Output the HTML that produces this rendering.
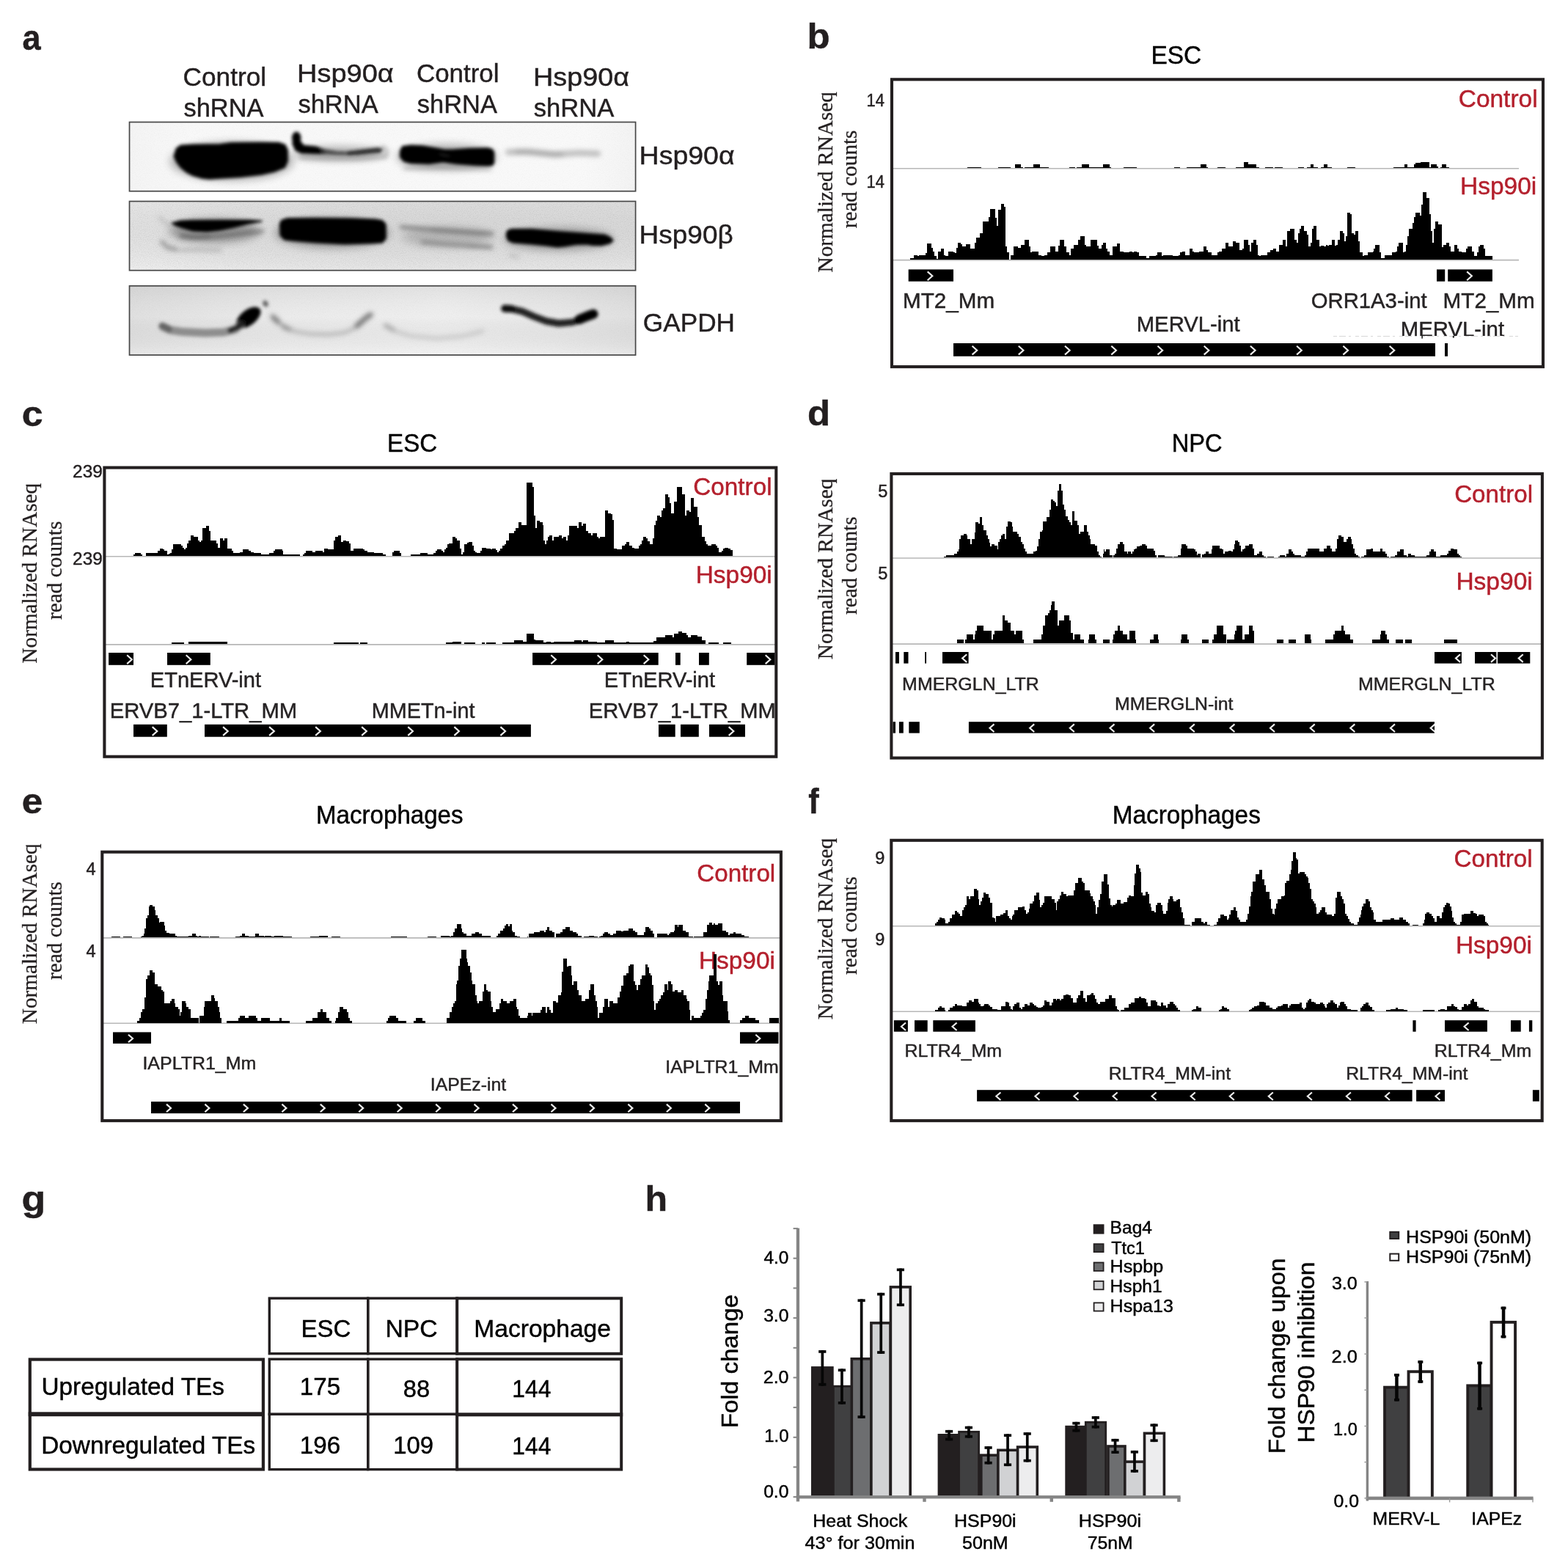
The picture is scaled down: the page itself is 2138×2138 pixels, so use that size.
<!DOCTYPE html>
<html lang="en"><head><meta charset="utf-8"><title>Figure</title>
<style>
html,body{margin:0;padding:0;background:#fff;}
svg{display:block;}
.s{font-family:'Liberation Sans', Arial, Helvetica, sans-serif;stroke-width:0.45px;}
.r{font-family:'Liberation Serif', 'Times New Roman', serif;stroke-width:0.3px;}
</style></head>
<body>
<svg width="2138" height="2138" viewBox="0 0 2138 2138">
<rect x="0" y="0" width="2138" height="2138" fill="#fff"/>
<text class="s" x="30.47" y="67.50" font-size="48.80" font-weight="bold" fill="#231f20" stroke="#231f20" textLength="25.13" lengthAdjust="spacingAndGlyphs">a</text>
<text class="s" x="249.54" y="116.80" font-size="35.60" fill="#231f20" stroke="#231f20" textLength="113.55" lengthAdjust="spacingAndGlyphs">Control</text>
<text class="s" x="250.44" y="158.60" font-size="35.60" fill="#231f20" stroke="#231f20" textLength="109.06" lengthAdjust="spacingAndGlyphs">shRNA</text>
<text class="s" x="405.06" y="111.60" font-size="35.60" fill="#231f20" stroke="#231f20" textLength="131.71" lengthAdjust="spacingAndGlyphs">Hsp90α</text>
<text class="s" x="406.44" y="153.60" font-size="35.60" fill="#231f20" stroke="#231f20" textLength="109.26" lengthAdjust="spacingAndGlyphs">shRNA</text>
<text class="s" x="567.95" y="111.80" font-size="35.60" fill="#231f20" stroke="#231f20" textLength="112.62" lengthAdjust="spacingAndGlyphs">Control</text>
<text class="s" x="568.84" y="153.80" font-size="35.60" fill="#231f20" stroke="#231f20" textLength="109.06" lengthAdjust="spacingAndGlyphs">shRNA</text>
<text class="s" x="726.98" y="116.80" font-size="35.60" fill="#231f20" stroke="#231f20" textLength="131.09" lengthAdjust="spacingAndGlyphs">Hsp90α</text>
<text class="s" x="727.73" y="159.00" font-size="35.60" fill="#231f20" stroke="#231f20" textLength="109.66" lengthAdjust="spacingAndGlyphs">shRNA</text>
<text class="s" x="871.60" y="223.60" font-size="35.60" fill="#231f20" stroke="#231f20" textLength="130.05" lengthAdjust="spacingAndGlyphs">Hsp90α</text>
<text class="s" x="871.64" y="332.10" font-size="35.60" fill="#231f20" stroke="#231f20" textLength="128.06" lengthAdjust="spacingAndGlyphs">Hsp90β</text>
<text class="s" x="876.84" y="451.80" font-size="35.60" fill="#231f20" stroke="#231f20" textLength="125.18" lengthAdjust="spacingAndGlyphs">GAPDH</text>
<defs>
<filter id="b1" x="-20%" y="-60%" width="140%" height="220%"><feGaussianBlur stdDeviation="2.3"/></filter>
<filter id="b2" x="-20%" y="-80%" width="140%" height="260%"><feGaussianBlur stdDeviation="3.4"/></filter>
<filter id="b3" x="-20%" y="-100%" width="140%" height="300%"><feGaussianBlur stdDeviation="6"/></filter>
<filter id="nz" x="0" y="0" width="100%" height="100%"><feTurbulence type="fractalNoise" baseFrequency="0.8" numOctaves="2" seed="7" result="n"/><feColorMatrix in="n" type="matrix" values="0 0 0 0 0  0 0 0 0 0  0 0 0 0 0  1.2 0 0 0 -0.5"/></filter>
<linearGradient id="g1" x1="0" x2="1" y1="0" y2="0"><stop offset="0" stop-color="#f4f4f4"/><stop offset="0.12" stop-color="#f8f8f8"/><stop offset="0.9" stop-color="#f9f9f9"/><stop offset="1" stop-color="#f3f3f3"/></linearGradient>
<linearGradient id="g2" x1="0" x2="1" y1="0" y2="0"><stop offset="0" stop-color="#ececec"/><stop offset="0.2" stop-color="#e6e6e6"/><stop offset="0.6" stop-color="#e2e2e2"/><stop offset="1" stop-color="#e3e3e3"/></linearGradient>
<linearGradient id="g2v" x1="0" x2="0" y1="0" y2="1"><stop offset="0" stop-color="#000" stop-opacity="0.02"/><stop offset="1" stop-color="#fff" stop-opacity="0.18"/></linearGradient>
<linearGradient id="g3" x1="0" x2="1" y1="0" y2="0"><stop offset="0" stop-color="#e0e0e0"/><stop offset="0.3" stop-color="#ebebeb"/><stop offset="0.62" stop-color="#efefef"/><stop offset="0.85" stop-color="#e8e8e8"/><stop offset="1" stop-color="#e0e0e0"/></linearGradient>
<linearGradient id="g3v" x1="0" x2="0" y1="0" y2="1"><stop offset="0" stop-color="#000" stop-opacity="0.06"/><stop offset="0.45" stop-color="#808080" stop-opacity="0"/><stop offset="1" stop-color="#fff" stop-opacity="0.28"/></linearGradient>
<clipPath id="c1"><rect x="176.6" y="166.6" width="690" height="94"/></clipPath>
<clipPath id="c2"><rect x="176.6" y="274.6" width="690" height="94"/></clipPath>
<clipPath id="c3"><rect x="176.6" y="389.9" width="690" height="94.2"/></clipPath>
</defs>
<rect x="176.5" y="166.5" width="690.1" height="94.2" fill="url(#g1)"/>
<rect x="176.5" y="166.5" width="690.1" height="94.2" filter="url(#nz)" opacity="0.05"/>
<g clip-path="url(#c1)">
<g filter="url(#b3)" opacity="0.30"><ellipse cx="316" cy="220" rx="84" ry="26" fill="#000"/><ellipse cx="609" cy="214" rx="68" ry="17" fill="#000"/><ellipse cx="462" cy="209" rx="62" ry="9" fill="#000"/></g>
<g filter="url(#b1)">
<path d="M237.6,213.0 L240.8,202.5 L246.4,198.6 L263.0,197.6 L300.0,197.0 L315.0,195.0 L356.0,194.4 L380.0,194.8 L388.5,197.6 L391.8,204.7 L391.8,219.6 L388.0,228.0 L375.0,233.4 L356.0,237.7 L328.0,240.9 L300.0,242.7 L285.5,243.8 L276.0,242.7 L263.0,239.0 L254.0,234.3 L246.5,228.0 L241.0,220.6Z" fill="#000" opacity="1.00" stroke="#000" stroke-width="2" stroke-linejoin="round"/>
<ellipse cx="404.2" cy="188.3" rx="6.2" ry="8.8" fill="#000"/>
<path d="M399.0,195.0 L409.5,193.5 L414.0,198.8 L431.0,200.6 L440.0,203.6 L443.0,209.3 L431.0,209.2 L411.0,208.4 L403.2,204.6Z" fill="#050505" opacity="1.00" stroke="#050505" stroke-width="2" stroke-linejoin="round"/>
<path d="M438.0,203.2 L459.0,207.0 L477.0,207.9 L478.0,210.8 L458.0,210.6 L440.0,209.4Z" fill="#3c3c3c" opacity="0.85" stroke="#3c3c3c" stroke-width="2" stroke-linejoin="round"/>
<path d="M474.0,207.6 L496.0,204.6 L514.5,202.3 L521.0,203.2 L518.5,207.4 L505.0,208.6 L487.0,210.5 L475.0,210.8Z" fill="#1f1f1f" opacity="0.90" stroke="#1f1f1f" stroke-width="2" stroke-linejoin="round"/>
<path d="M546.0,206.0 L549.0,200.0 L560.0,198.4 L576.0,199.2 L595.0,202.6 L605.0,204.2 L617.0,204.4 L641.0,202.8 L665.0,202.3 L671.0,204.0 L673.3,208.0 L673.3,222.0 L671.0,225.3 L665.0,226.0 L650.0,225.4 L622.0,223.2 L604.0,220.4 L585.0,223.2 L560.0,222.3 L551.0,219.8 L546.0,214.0Z" fill="#000" opacity="1.00" stroke="#000" stroke-width="2" stroke-linejoin="round"/>
</g>
<g filter="url(#b2)">
<polyline points="410.0,214.5 450.0,216.0 490.0,216.2 524.0,213.5" fill="none" stroke="#666" stroke-width="5.0" stroke-linecap="round" stroke-linejoin="round" opacity="0.42"/>
<polyline points="522.0,200.0 528.0,206.0 526.0,214.0" fill="none" stroke="#777" stroke-width="5.0" stroke-linecap="round" stroke-linejoin="round" opacity="0.45"/>
<polyline points="552.0,229.5 600.0,228.0 668.0,230.5" fill="none" stroke="#555" stroke-width="5.0" stroke-linecap="round" stroke-linejoin="round" opacity="0.35"/>
<polyline points="693.0,207.5 720.0,206.5 755.0,210.5 790.0,208.5 815.0,209.5" fill="none" stroke="#8a8a8a" stroke-width="8.5" stroke-linecap="round" stroke-linejoin="round" opacity="0.50"/>
<polyline points="705.0,207.0 740.0,209.5 765.0,211.0" fill="none" stroke="#777" stroke-width="7.0" stroke-linecap="round" stroke-linejoin="round" opacity="0.28"/>
</g>
<ellipse cx="606" cy="211.5" rx="8" ry="1.6" fill="#3a3a3a" opacity="0.55" filter="url(#b1)" transform="rotate(12 606 211.5)"/>
</g>
<rect x="176.50" y="166.50" width="690.10" height="94.20" fill="none" stroke="#474747" stroke-width="1.7"/>
<rect x="176.5" y="274.5" width="690.1" height="94.2" fill="url(#g2)"/>
<rect x="176.5" y="274.5" width="690.1" height="94.2" fill="url(#g2v)"/>
<rect x="176.5" y="274.5" width="690.1" height="94.2" filter="url(#nz)" opacity="0.14"/>
<g clip-path="url(#c2)">
<g filter="url(#b3)" opacity="0.30"><ellipse cx="453" cy="318" rx="78" ry="20" fill="#000"/><ellipse cx="762" cy="326" rx="74" ry="15" fill="#000"/><ellipse cx="292" cy="315" rx="62" ry="16" fill="#000"/><ellipse cx="610" cy="323" rx="62" ry="14" fill="#000" opacity="0.5"/></g>
<g filter="url(#b1)">
<path d="M234.5,304.4 L245.0,301.6 L260.0,300.8 L300.0,300.4 L340.0,300.6 L357.0,301.6 L337.0,305.2 L319.0,309.8 L300.0,313.4 L282.0,315.4 L263.0,314.6 L248.0,310.4 L239.0,307.0Z" fill="#000" opacity="1.00" stroke="#000" stroke-width="2" stroke-linejoin="round"/>
<path d="M381.8,306.0 L384.0,300.6 L392.0,298.0 L430.0,297.8 L480.0,298.2 L512.0,299.4 L521.0,301.0 L525.6,306.0 L525.8,325.0 L521.0,330.6 L505.0,331.6 L470.0,332.4 L430.0,330.4 L400.0,328.0 L388.0,326.4 L382.6,321.0Z" fill="#000" opacity="1.00" stroke="#000" stroke-width="2" stroke-linejoin="round"/>
<path d="M690.6,321.0 L692.0,315.0 L697.0,312.8 L725.0,312.8 L762.0,316.0 L800.0,318.8 L825.0,320.6 L832.0,324.0 L835.6,328.0 L831.0,331.6 L820.0,334.2 L808.0,334.0 L800.0,332.4 L785.0,333.0 L770.0,335.6 L760.0,336.4 L745.0,334.4 L725.0,332.4 L700.0,330.6 L693.0,327.6Z" fill="#000" opacity="1.00" stroke="#000" stroke-width="2" stroke-linejoin="round"/>
</g>
<g filter="url(#b2)">
<polyline points="246.0,321.5 265.0,323.4 300.0,322.0 335.0,318.0 358.0,315.5" fill="none" stroke="#4a4a4a" stroke-width="4.6" stroke-linecap="round" stroke-linejoin="round" opacity="0.62"/>
<polyline points="248.0,322.0 262.0,323.6 285.0,323.0" fill="none" stroke="#333" stroke-width="4.6" stroke-linecap="round" stroke-linejoin="round" opacity="0.35"/>
<polyline points="221.0,330.0 228.0,337.0 240.0,340.0" fill="none" stroke="#666" stroke-width="6.0" stroke-linecap="round" stroke-linejoin="round" opacity="0.55"/>
<polyline points="246.0,341.0 270.0,340.5 300.0,341.5" fill="none" stroke="#777" stroke-width="4.6" stroke-linecap="round" stroke-linejoin="round" opacity="0.40"/>
<polyline points="218.0,296.0 224.0,303.0 232.0,307.0" fill="none" stroke="#888" stroke-width="4.0" stroke-linecap="round" stroke-linejoin="round" opacity="0.35"/>
<polyline points="340.0,316.0 352.0,317.0" fill="none" stroke="#777" stroke-width="4.0" stroke-linecap="round" stroke-linejoin="round" opacity="0.30"/>
<polyline points="547.0,309.6 580.0,312.6 620.0,315.2 650.0,317.4 671.0,318.6" fill="none" stroke="#6a6a6a" stroke-width="5.0" stroke-linecap="round" stroke-linejoin="round" opacity="0.80"/>
<polyline points="590.0,313.6 630.0,316.2 660.0,318.0" fill="none" stroke="#555" stroke-width="3.6" stroke-linecap="round" stroke-linejoin="round" opacity="0.30"/>
<polyline points="576.0,330.0 610.0,333.0 645.0,335.4 670.0,337.0" fill="none" stroke="#747474" stroke-width="5.2" stroke-linecap="round" stroke-linejoin="round" opacity="0.74"/>
<polyline points="640.0,335.4 668.0,337.4" fill="none" stroke="#666" stroke-width="4.4" stroke-linecap="round" stroke-linejoin="round" opacity="0.35"/>
<polyline points="696.0,348.0 706.0,350.5" fill="none" stroke="#888" stroke-width="5.0" stroke-linecap="round" stroke-linejoin="round" opacity="0.30"/>
</g>
</g>
<rect x="176.50" y="274.50" width="690.10" height="94.20" fill="none" stroke="#474747" stroke-width="1.7"/>
<rect x="176.5" y="389.8" width="690.1" height="94.3" fill="url(#g3)"/>
<rect x="176.5" y="389.8" width="690.1" height="94.3" fill="url(#g3v)"/>
<rect x="176.5" y="389.8" width="690.1" height="94.3" filter="url(#nz)" opacity="0.05"/>
<g clip-path="url(#c3)">
<g filter="url(#b1)">
<ellipse cx="338.8" cy="433.0" rx="19.5" ry="10.4" fill="#000" transform="rotate(-38 338.8 433.0)"/>
<polyline points="222.0,445.5 232.0,450.0 250.0,452.6 280.0,454.0 305.0,453.0 320.0,449.4 328.0,443.0" fill="none" stroke="#707070" stroke-width="11.0" stroke-linecap="round" stroke-linejoin="round" opacity="0.74"/>
<polyline points="221.0,444.0 230.0,448.6" fill="none" stroke="#444" stroke-width="9.0" stroke-linecap="round" stroke-linejoin="round" opacity="0.55"/>
<polyline points="314.0,450.6 324.0,446.5 332.0,439.0" fill="none" stroke="#111" stroke-width="7.0" stroke-linecap="round" stroke-linejoin="round" opacity="0.85"/>
<ellipse cx="362" cy="414" rx="3.6" ry="4.6" fill="#444" opacity="0.8" transform="rotate(-30 362 414)"/>
<polyline points="689.0,421.0 698.0,421.4 712.0,424.6 728.0,431.6 745.0,438.0 762.0,441.0 780.0,439.4 795.0,434.6 806.0,430.0" fill="none" stroke="#141414" stroke-width="9.4" stroke-linecap="round" stroke-linejoin="round" opacity="0.95"/>
<polyline points="790.0,435.5 801.0,431.0 809.0,428.2" fill="none" stroke="#000" stroke-width="13.0" stroke-linecap="round" stroke-linejoin="round" opacity="1.00"/>
<polyline points="688.0,420.6 697.0,421.0" fill="none" stroke="#111" stroke-width="10.0" stroke-linecap="round" stroke-linejoin="round" opacity="0.90"/>
</g>
<g filter="url(#b2)">
<polyline points="372.0,432.6 380.0,440.0 390.0,447.0 404.0,452.4 425.0,455.6 450.0,456.0 470.0,453.6 482.0,448.0 492.0,440.0 500.0,432.0 506.0,428.6" fill="none" stroke="#777" stroke-width="5.0" stroke-linecap="round" stroke-linejoin="round" opacity="0.42"/>
<polyline points="372.0,432.0 379.0,438.6" fill="none" stroke="#555" stroke-width="7.0" stroke-linecap="round" stroke-linejoin="round" opacity="0.62"/>
<polyline points="386.0,445.0 394.0,449.0" fill="none" stroke="#666" stroke-width="6.0" stroke-linecap="round" stroke-linejoin="round" opacity="0.50"/>
<polyline points="487.0,444.0 497.0,435.0 505.0,429.4" fill="none" stroke="#555" stroke-width="7.4" stroke-linecap="round" stroke-linejoin="round" opacity="0.66"/>
<polyline points="526.0,444.5 540.0,452.0 560.0,458.0 595.0,461.6 630.0,458.6 658.0,451.4" fill="none" stroke="#999" stroke-width="5.0" stroke-linecap="round" stroke-linejoin="round" opacity="0.40"/>
<polyline points="525.6,443.5 536.0,449.5" fill="none" stroke="#888" stroke-width="6.4" stroke-linecap="round" stroke-linejoin="round" opacity="0.45"/>
</g>
</g>
<rect x="176.50" y="389.80" width="690.10" height="94.30" fill="none" stroke="#474747" stroke-width="1.7"/>
<text class="s" x="1100.49" y="66.30" font-size="47.60" font-weight="bold" fill="#231f20" stroke="#231f20" textLength="31.09" lengthAdjust="spacingAndGlyphs">b</text>
<text class="s" x="1569.42" y="87.00" font-size="34.20" fill="#000" stroke="#000" textLength="68.82" lengthAdjust="spacingAndGlyphs">ESC</text>
<text class="s" x="1181.45" y="145.20" font-size="23.60" fill="#231f20" stroke="#231f20" textLength="24.42" lengthAdjust="spacingAndGlyphs">14</text>
<text class="s" x="1181.45" y="256.20" font-size="23.60" fill="#231f20" stroke="#231f20" textLength="24.42" lengthAdjust="spacingAndGlyphs">14</text>
<text class="r" x="1134.80" y="371.43" font-size="30.40" fill="#231f20" stroke="#231f20" textLength="246.27" lengthAdjust="spacingAndGlyphs" transform="rotate(-90 1134.80 371.43)">Normalized RNAseq</text>
<text class="r" x="1168.40" y="311.28" font-size="30.40" fill="#231f20" stroke="#231f20" textLength="133.78" lengthAdjust="spacingAndGlyphs" transform="rotate(-90 1168.40 311.28)">read counts</text>
<text class="s" x="1988.73" y="145.90" font-size="33.60" fill="#b4202d" stroke="#b4202d" textLength="107.85" lengthAdjust="spacingAndGlyphs">Control</text>
<text class="s" x="1991.02" y="264.70" font-size="33.60" fill="#b4202d" stroke="#b4202d" textLength="104.23" lengthAdjust="spacingAndGlyphs">Hsp90i</text>
<line x1="1216.0" y1="229.7" x2="2071.0" y2="229.7" stroke="#b7b7b7" stroke-width="1.60"/>
<line x1="1216.0" y1="354.6" x2="2071.0" y2="354.6" stroke="#b7b7b7" stroke-width="1.60"/>
<path d="M1319.3,229.3V228.1 H1337.9V229.3ZM1361.2,229.3V228.1 H1377.5V229.3ZM1384.0,229.3V224.2 H1392.3V227.7 H1394.6V229.3ZM1396.9,229.3V228.1 H1409.3V224.2 H1417.9V228.1 H1429.5V229.3ZM1458.0,229.3V228.1 H1466.0V229.3ZM1468.4,229.3V228.1 H1475.3V224.2 H1484.7V228.1 H1504.1V224.2 H1512.6V227.7 H1514.9V229.3ZM1532.1,229.3V228.1 H1549.8V229.3ZM1601.1,229.3V228.1 H1608.8V229.3ZM1618.1,229.3V228.1 H1637.2V224.2 H1645.0V228.1 H1647.0V229.3ZM1660.1,229.3V228.1 H1670.9V229.3ZM1684.9,229.3V228.1 H1696.2V221.2 H1702.0V224.2 H1713.0V228.1 H1716.9V229.3ZM1725.0,229.3V228.1 H1735.8V229.3ZM1738.2,229.3V228.1 H1749.0V229.3ZM1770.0,229.3V228.1 H1778.1V229.3ZM1782.1,229.3V228.1 H1787.1V224.2 H1791.0V228.1 H1797.2V229.3ZM1801.1,229.3V228.1 H1804.9V224.2 H1809.9V229.3ZM1810.1,229.3V228.1 H1815.9V229.3ZM1837.2,229.3V228.1 H1847.7V229.3ZM1900.4,229.3V228.1 H1915.3V224.2 H1918.7V228.1 H1928.0V224.2 H1930.3V221.5 H1937.3V220.8 H1948.7V228.1 H1951.0V224.2 H1958.6V227.0 H1960.6V229.3ZM1964.2,229.3V228.1 H1966.1V224.2 H1972.0V228.1 H1975.8V229.3Z" fill="#000" shape-rendering="crispEdges"/>
<path d="M1240.9,354.0V352.1 H1245.5V347.5 H1251.0V349.0 H1253.3V347.5 H1261.8V345.1 H1264.2V331.5 H1270.1V338.2 H1271.9V342.8 H1274.3V349.3 H1276.6V352.9 H1278.9V343.1 H1282.8V338.5 H1287.0V347.5 H1289.0V349.3 H1292.9V342.5 H1299.9V343.6 H1302.2V345.1 H1304.2V338.2 H1306.1V331.3 H1310.0V333.2 H1312.0V336.3 H1317.0V333.2 H1322.9V338.5 H1329.4V331.2 H1331.2V323.9 H1335.9V317.5 H1339.9V302.1 H1348.0V295.5 H1350.3V285.4 H1357.0V297.3 H1358.9V308.2 H1361.2V286.1 H1365.1V278.4 H1369.0V281.5 H1371.0V336.3 H1372.9V343.6 H1376.0V354.0ZM1378.3,354.0V347.5 H1382.2V335.8 H1387.6V338.2 H1392.3V333.5 H1396.9V326.5 H1402.7V336.3 H1404.7V343.6 H1407.0V342.5 H1415.9V347.5 H1419.8V349.3 H1424.1V347.5 H1428.0V343.6 H1431.9V336.3 H1438.9V342.8 H1442.7V335.1 H1445.1V327.3 H1450.8V335.8 H1453.6V343.6 H1458.0V347.5 H1459.8V338.5 H1464.2V333.5 H1469.9V327.3 H1473.0V322.3 H1478.9V333.5 H1480.8V336.3 H1487.0V326.5 H1495.8V335.1 H1497.9V338.5 H1501.7V333.5 H1504.1V331.3 H1508.0V338.5 H1510.0V342.8 H1512.9V347.5 H1517.0V336.3 H1519.9V354.0ZM1520.0,354.0V336.3 H1523.1V331.5 H1527.0V342.8 H1531.6V343.6 H1540.2V342.5 H1544.1V343.6 H1546.4V342.5 H1549.5V343.6 H1552.9V349.3 H1562.7V352.1 H1567.0V349.3 H1575.9V347.5 H1578.2V343.6 H1583.7V349.3 H1586.0V347.5 H1598.9V349.3 H1607.0V347.5 H1609.3V343.6 H1612.4V342.5 H1616.0V347.5 H1622.0V338.5 H1625.9V342.8 H1627.9V343.6 H1634.9V342.5 H1641.1V336.3 H1645.0V340.5 H1647.3V343.6 H1652.0V347.5 H1660.1V343.6 H1662.1V342.5 H1666.0V338.5 H1670.9V331.3 H1674.8V336.3 H1681.0V329.3 H1684.9V331.3 H1690.0V340.5 H1694.2V338.5 H1696.2V327.3 H1701.7V333.5 H1704.0V342.8 H1706.0V331.3 H1709.1V327.3 H1712.9V333.5 H1714.9V347.5 H1716.9V349.3 H1719.1V347.5 H1728.1V343.6 H1732.0V340.5 H1736.1V338.5 H1740.0V342.5 H1744.1V333.5 H1749.0V327.3 H1752.9V336.3 H1755.2V315.2 H1759.1V311.8 H1764.9V313.3 H1765.3V327.3 H1768.0V331.3 H1770.0V317.5 H1772.3V311.8 H1774.2V308.3 H1778.1V315.2 H1782.1V320.3 H1784.0V336.3 H1787.1V331.3 H1789.1V311.8 H1791.3V308.3 H1795.2V326.5 H1799.0V336.3 H1801.1V335.4 H1804.9V336.3 H1808.0V333.5 H1809.9V354.0ZM1810.0,354.0V335.4 H1811.9V333.5 H1815.9V326.5 H1820.1V335.4 H1822.1V333.5 H1824.0V327.3 H1827.1V315.2 H1831.0V317.5 H1833.0V328.8 H1834.8V322.3 H1836.9V290.3 H1841.1V292.4 H1842.9V317.5 H1846.0V320.3 H1848.0V315.2 H1851.9V329.3 H1853.9V343.6 H1857.8V349.3 H1860.0V347.5 H1865.1V343.6 H1872.1V342.5 H1873.4V338.5 H1875.2V333.5 H1880.7V343.6 H1882.7V352.1 H1887.6V347.5 H1898.0V343.6 H1902.9V342.5 H1905.0V336.3 H1907.0V331.3 H1912.8V343.6 H1915.3V342.5 H1917.1V333.5 H1919.2V322.3 H1921.2V311.8 H1926.1V304.3 H1928.0V295.5 H1930.3V290.3 H1935.8V294.4 H1938.1V279.2 H1940.1V262.4 H1944.8V270.1 H1948.7V292.4 H1951.0V315.2 H1952.9V331.3 H1954.9V311.8 H1956.7V302.4 H1960.6V306.3 H1966.1V337.4 H1968.1V333.5 H1972.3V331.3 H1975.8V336.3 H1978.0V342.5 H1983.1V333.5 H1987.0V338.5 H1989.0V342.5 H1993.2V343.6 H1999.1V338.5 H2001.3V336.3 H2007.2V342.5 H2010.0V349.3 H2013.9V343.6 H2015.7V336.3 H2018.1V333.5 H2022.7V338.5 H2025.1V349.3 H2034.8V354.0Z" fill="#000" shape-rendering="crispEdges"/>
<rect x="1238.7" y="367.4" width="61.3" height="16.3" fill="#000"/>
<polyline points="1264.7,370.4 1271.3,376.3 1264.7,382.2" fill="none" stroke="#fff" stroke-width="2.2" stroke-linejoin="miter" stroke-opacity="0.93"/>
<rect x="1959.0" y="367.4" width="11.2" height="16.3" fill="#000"/>
<rect x="1974.2" y="367.4" width="60.7" height="16.3" fill="#000"/>
<polyline points="2000.2,370.4 2006.8,376.3 2000.2,382.2" fill="none" stroke="#fff" stroke-width="2.2" stroke-linejoin="miter" stroke-opacity="0.93"/>
<text class="s" x="1231.03" y="419.70" font-size="29.30" fill="#262324" stroke="#262324" textLength="125.14" lengthAdjust="spacingAndGlyphs">MT2_Mm</text>
<text class="s" x="1787.78" y="419.70" font-size="29.30" fill="#262324" stroke="#262324" textLength="157.80" lengthAdjust="spacingAndGlyphs">ORR1A3-int</text>
<text class="s" x="1967.63" y="419.70" font-size="29.30" fill="#262324" stroke="#262324" textLength="125.04" lengthAdjust="spacingAndGlyphs">MT2_Mm</text>
<text class="s" x="1549.76" y="451.80" font-size="29.30" fill="#262324" stroke="#262324" textLength="140.92" lengthAdjust="spacingAndGlyphs">MERVL-int</text>
<text class="s" x="1909.75" y="458.80" font-size="29.30" fill="#262324" stroke="#262324" textLength="141.33" lengthAdjust="spacingAndGlyphs">MERVL-int</text>
<rect x="1815.0" y="458.0" width="265.0" height="5.0" fill="#fff"/>
<line x1="1818" y1="458.4" x2="2070" y2="458.4" stroke="#9a9a9a" stroke-width="0.8" stroke-dasharray="5 3 9 4 3 6" opacity="0.55"/>
<rect x="1938.3" y="457.6" width="1.6" height="4.0" fill="#222"/>
<rect x="1980.8" y="458.0" width="2.0" height="2.6" fill="#222"/>
<rect x="1300.0" y="468.0" width="657.0" height="17.8" fill="#000"/>
<polyline points="1325.6,471.8 1332.2,477.7 1325.6,483.6" fill="none" stroke="#fff" stroke-width="2.2" stroke-linejoin="miter" stroke-opacity="0.93"/>
<polyline points="1388.8,471.8 1395.4,477.7 1388.8,483.6" fill="none" stroke="#fff" stroke-width="2.2" stroke-linejoin="miter" stroke-opacity="0.93"/>
<polyline points="1452.0,471.8 1458.6,477.7 1452.0,483.6" fill="none" stroke="#fff" stroke-width="2.2" stroke-linejoin="miter" stroke-opacity="0.93"/>
<polyline points="1515.3,471.8 1521.9,477.7 1515.3,483.6" fill="none" stroke="#fff" stroke-width="2.2" stroke-linejoin="miter" stroke-opacity="0.93"/>
<polyline points="1578.5,471.8 1585.1,477.7 1578.5,483.6" fill="none" stroke="#fff" stroke-width="2.2" stroke-linejoin="miter" stroke-opacity="0.93"/>
<polyline points="1641.7,471.8 1648.3,477.7 1641.7,483.6" fill="none" stroke="#fff" stroke-width="2.2" stroke-linejoin="miter" stroke-opacity="0.93"/>
<polyline points="1704.9,471.8 1711.5,477.7 1704.9,483.6" fill="none" stroke="#fff" stroke-width="2.2" stroke-linejoin="miter" stroke-opacity="0.93"/>
<polyline points="1768.1,471.8 1774.7,477.7 1768.1,483.6" fill="none" stroke="#fff" stroke-width="2.2" stroke-linejoin="miter" stroke-opacity="0.93"/>
<polyline points="1831.4,471.8 1838.0,477.7 1831.4,483.6" fill="none" stroke="#fff" stroke-width="2.2" stroke-linejoin="miter" stroke-opacity="0.93"/>
<polyline points="1894.6,471.8 1901.2,477.7 1894.6,483.6" fill="none" stroke="#fff" stroke-width="2.2" stroke-linejoin="miter" stroke-opacity="0.93"/>
<rect x="1970.0" y="468.0" width="4.0" height="17.8" fill="#000"/>
<rect x="1216.0" y="108.3" width="888.0" height="391.8" fill="none" stroke="#231f20" stroke-width="4.1"/>
<text class="s" x="29.78" y="580.50" font-size="48.80" font-weight="bold" fill="#231f20" stroke="#231f20" textLength="28.87" lengthAdjust="spacingAndGlyphs">c</text>
<text class="s" x="528.05" y="616.10" font-size="34.20" fill="#000" stroke="#000" textLength="68.08" lengthAdjust="spacingAndGlyphs">ESC</text>
<text class="s" x="99.08" y="650.70" font-size="23.60" fill="#231f20" stroke="#231f20" textLength="40.75" lengthAdjust="spacingAndGlyphs">239</text>
<text class="s" x="99.08" y="769.80" font-size="23.60" fill="#231f20" stroke="#231f20" textLength="40.75" lengthAdjust="spacingAndGlyphs">239</text>
<text class="r" x="49.70" y="904.43" font-size="30.40" fill="#231f20" stroke="#231f20" textLength="245.47" lengthAdjust="spacingAndGlyphs" transform="rotate(-90 49.70 904.43)">Normalized RNAseq</text>
<text class="r" x="84.00" y="844.99" font-size="30.40" fill="#231f20" stroke="#231f20" textLength="134.29" lengthAdjust="spacingAndGlyphs" transform="rotate(-90 84.00 844.99)">read counts</text>
<text class="s" x="945.24" y="675.30" font-size="33.60" fill="#b4202d" stroke="#b4202d" textLength="107.33" lengthAdjust="spacingAndGlyphs">Control</text>
<text class="s" x="948.73" y="795.00" font-size="33.60" fill="#b4202d" stroke="#b4202d" textLength="104.02" lengthAdjust="spacingAndGlyphs">Hsp90i</text>
<line x1="142.4" y1="758.7" x2="1058.0" y2="758.7" stroke="#b7b7b7" stroke-width="1.60"/>
<line x1="142.4" y1="878.9" x2="1058.0" y2="878.9" stroke="#b7b7b7" stroke-width="1.60"/>
<path d="M181.9,758.2V756.3 H184.3V754.3 H192.0V756.3 H194.0V758.2ZM199.0,758.2V754.3 H213.0V753.5 H215.3V751.4 H218.1V748.4 H222.0V749.3 H223.9V751.4 H228.0V756.3 H230.1V755.1 H232.4V753.5 H234.3V749.3 H236.3V742.4 H247.1V744.2 H249.2V747.3 H251.2V749.3 H253.0V746.6 H255.2V741.4 H257.2V737.2 H260.0V730.2 H263.9V732.3 H269.8V737.2 H272.0V739.3 H274.0V737.2 H276.0V720.2 H281.0V717.4 H284.9V724.3 H286.9V737.2 H294.8V741.4 H296.8V746.6 H299.9V734.3 H303.8V736.5 H305.8V734.3 H309.7V748.4 H315.8V751.4 H317.8V754.3 H327.1V753.2 H331.3V749.3 H339.1V751.4 H341.9V753.2 H345.7V754.3 H355.8V756.3 H367.0V754.3 H372.9V751.4 H374.9V749.3 H384.6V751.4 H386.1V756.3 H408.9V758.2ZM413.3,758.2V756.3 H415.2V753.5 H417.2V751.4 H425.7V753.2 H430.1V751.4 H440.0V753.2 H442.2V748.4 H447.0V749.3 H455.1V736.5 H457.1V732.3 H461.0V730.2 H464.8V739.3 H468.0V736.5 H471.8V737.5 H476.0V741.4 H478.0V751.4 H481.9V748.4 H495.1V749.3 H497.1V751.4 H501.0V753.2 H509.9V754.3 H522.0V756.3 H525.9V758.2ZM535.0,758.2V753.2 H537.0V751.4 H544.8V754.3 H547.1V758.2ZM560.0,758.2V756.3 H573.1V754.3 H582.9V756.3 H590.9V754.3 H593.7V751.4 H596.1V749.3 H602.0V751.4 H604.1V753.2 H606.1V749.3 H608.0V746.6 H610.0V742.4 H612.4V741.4 H617.0V732.3 H620.9V734.3 H623.2V736.5 H626.8V748.4 H629.0V756.3 H631.0V753.2 H633.0V742.4 H636.9V740.3 H639.1V739.3 H643.9V744.2 H646.1V751.4 H648.1V753.2 H650.4V754.3 H655.1V751.4 H657.1V746.6 H662.8V748.4 H669.0V749.3 H671.1V748.4 H676.0V750.4 H678.4V753.2 H680.2V751.4 H682.2V748.4 H684.6V744.2 H688.4V742.4 H690.3V736.5 H694.2V727.1 H700.9V724.3 H703.2V720.2 H707.1V712.4 H711.0V715.5 H718.0V658.4 H726.0V663.5 H728.0V703.4 H730.1V720.2 H731.9V710.4 H735.8V712.4 H740.0V715.5 H741.2V736.5 H743.1V742.4 H745.1V736.5 H747.0V732.3 H749.0V730.2 H753.0V736.5 H755.1V732.3 H762.0V730.2 H765.9V734.3 H768.0V732.3 H771.8V736.5 H773.9V729.5 H776.0V717.4 H787.0V720.2 H789.1V712.4 H793.0V717.4 H795.1V713.5 H799.0V724.3 H802.1V727.1 H806.0V729.5 H808.0V727.1 H814.1V732.3 H816.1V734.3 H818.1V732.3 H825.1V696.4 H829.0V700.3 H832.9V701.4 H834.7V708.5 H837.0V748.4 H840.9V749.3 H847.9V744.2 H851.8V742.4 H854.1V739.3 H858.0V744.2 H861.9V746.6 H865.0V748.4 H871.2V744.2 H873.1V742.4 H875.1V736.5 H877.1V732.3 H881.0V734.3 H882.9V737.5 H886.0V742.4 H889.8V734.3 H892.2V715.5 H894.0V710.4 H896.1V703.4 H899.9V705.4 H902.0V696.4 H904.1V693.3 H906.9V674.3 H910.8V677.5 H912.7V686.3 H915.0V700.3 H918.9V684.3 H922.9V663.5 H929.8V674.3 H933.8V703.4 H936.0V696.4 H940.0V698.4 H941.9V679.3 H945.7V691.4 H950.7V705.4 H952.7V715.5 H956.6V732.3 H960.8V737.5 H962.8V742.4 H964.8V744.2 H970.1V742.4 H976.0V744.2 H978.4V746.6 H980.2V753.2 H984.3V751.4 H986.1V748.4 H988.4V746.6 H993.1V748.4 H996.2V750.4 H999.0V758.2Z" fill="#000" shape-rendering="crispEdges"/>
<path d="M234.0,878.2V875.8 H250.7V878.2ZM257.1,878.2V875.3 H310.2V878.2ZM455.0,878.2V875.8 H488.8V878.2ZM491.2,878.2V876.3 H500.7V878.2ZM607.9,878.2V876.3 H616.7V875.3 H628.6V878.2ZM633.3,878.2V876.3 H647.6V878.2ZM657.1,878.2V876.3 H660.7V878.2ZM663.1,878.2V876.3 H676.2V878.2ZM684.5,878.2V876.3 H701.2V873.4 H713.1V875.3 H718.3V864.2 H727.9V871.8 H730.2V873.4 H741.0V875.8 H745.2V875.3 H750.7V876.3 H754.8V875.3 H783.3V873.4 H792.9V875.3 H795.2V873.4 H801.9V874.9 H807.1V875.3 H813.8V876.3 H825.0V873.4 H836.9V876.3 H853.6V875.3 H857.6V876.3 H890.5V874.2 H895.2V869.4 H907.1V866.3 H916.7V868.7 H919.0V864.2 H925.0V861.1 H929.8V862.7 H935.7V866.3 H938.1V868.7 H942.1V866.3 H951.2V868.2 H956.7V873.4 H961.9V878.2ZM965.5,878.2V876.3 H979.8V878.2ZM986.2,878.2V876.3 H996.9V878.2Z" fill="#000" shape-rendering="crispEdges"/>
<rect x="148.1" y="890.0" width="33.9" height="16.8" fill="#000"/>
<polyline points="173.2,893.3 179.8,899.2 173.2,905.1" fill="none" stroke="#fff" stroke-width="2.2" stroke-linejoin="miter" stroke-opacity="0.93"/>
<rect x="228.0" y="890.0" width="58.8" height="16.8" fill="#000"/>
<polyline points="253.7,893.3 260.3,899.2 253.7,905.1" fill="none" stroke="#fff" stroke-width="2.2" stroke-linejoin="miter" stroke-opacity="0.93"/>
<rect x="726.1" y="890.0" width="171.6" height="16.8" fill="#000"/>
<polyline points="751.3,893.3 757.9,899.2 751.3,905.1" fill="none" stroke="#fff" stroke-width="2.2" stroke-linejoin="miter" stroke-opacity="0.93"/>
<polyline points="814.7,893.3 821.3,899.2 814.7,905.1" fill="none" stroke="#fff" stroke-width="2.2" stroke-linejoin="miter" stroke-opacity="0.93"/>
<polyline points="877.7,893.3 884.3,899.2 877.7,905.1" fill="none" stroke="#fff" stroke-width="2.2" stroke-linejoin="miter" stroke-opacity="0.93"/>
<rect x="921.0" y="890.0" width="6.7" height="16.8" fill="#000"/>
<rect x="953.0" y="890.0" width="13.8" height="16.8" fill="#000"/>
<rect x="1018.2" y="890.0" width="38.3" height="16.8" fill="#000"/>
<polyline points="1043.7,893.3 1050.3,899.2 1043.7,905.1" fill="none" stroke="#fff" stroke-width="2.2" stroke-linejoin="miter" stroke-opacity="0.93"/>
<text class="s" x="204.77" y="937.40" font-size="29.30" fill="#262324" stroke="#262324" textLength="151.31" lengthAdjust="spacingAndGlyphs">ETnERV-int</text>
<text class="s" x="823.77" y="937.40" font-size="29.30" fill="#262324" stroke="#262324" textLength="151.31" lengthAdjust="spacingAndGlyphs">ETnERV-int</text>
<text class="s" x="149.76" y="978.80" font-size="29.30" fill="#262324" stroke="#262324" textLength="255.31" lengthAdjust="spacingAndGlyphs">ERVB7_1-LTR_MM</text>
<text class="s" x="506.80" y="978.80" font-size="29.30" fill="#262324" stroke="#262324" textLength="140.68" lengthAdjust="spacingAndGlyphs">MMETn-int</text>
<text class="s" x="802.77" y="978.80" font-size="29.30" fill="#262324" stroke="#262324" textLength="255.01" lengthAdjust="spacingAndGlyphs">ERVB7_1-LTR_MM</text>
<rect x="182.0" y="987.8" width="45.8" height="16.9" fill="#000"/>
<polyline points="207.7,991.1 214.3,997.0 207.7,1002.9" fill="none" stroke="#fff" stroke-width="2.2" stroke-linejoin="miter" stroke-opacity="0.93"/>
<rect x="279.0" y="987.8" width="444.9" height="16.9" fill="#000"/>
<polyline points="304.1,991.1 310.7,997.0 304.1,1002.9" fill="none" stroke="#fff" stroke-width="2.2" stroke-linejoin="miter" stroke-opacity="0.93"/>
<polyline points="367.1,991.1 373.8,997.0 367.1,1002.9" fill="none" stroke="#fff" stroke-width="2.2" stroke-linejoin="miter" stroke-opacity="0.93"/>
<polyline points="430.2,991.1 436.8,997.0 430.2,1002.9" fill="none" stroke="#fff" stroke-width="2.2" stroke-linejoin="miter" stroke-opacity="0.93"/>
<polyline points="493.2,991.1 499.8,997.0 493.2,1002.9" fill="none" stroke="#fff" stroke-width="2.2" stroke-linejoin="miter" stroke-opacity="0.93"/>
<polyline points="556.3,991.1 562.9,997.0 556.3,1002.9" fill="none" stroke="#fff" stroke-width="2.2" stroke-linejoin="miter" stroke-opacity="0.93"/>
<polyline points="619.4,991.1 625.9,997.0 619.4,1002.9" fill="none" stroke="#fff" stroke-width="2.2" stroke-linejoin="miter" stroke-opacity="0.93"/>
<polyline points="682.4,991.1 689.0,997.0 682.4,1002.9" fill="none" stroke="#fff" stroke-width="2.2" stroke-linejoin="miter" stroke-opacity="0.93"/>
<rect x="898.0" y="987.8" width="22.7" height="16.9" fill="#000"/>
<rect x="928.0" y="987.8" width="24.8" height="16.9" fill="#000"/>
<rect x="967.0" y="987.8" width="49.0" height="16.9" fill="#000"/>
<polyline points="993.7,991.1 1000.3,997.0 993.7,1002.9" fill="none" stroke="#fff" stroke-width="2.2" stroke-linejoin="miter" stroke-opacity="0.93"/>
<rect x="142.4" y="637.6" width="915.9" height="394.1" fill="none" stroke="#231f20" stroke-width="4.1"/>
<text class="s" x="1100.96" y="579.80" font-size="47.60" font-weight="bold" fill="#231f20" stroke="#231f20" textLength="31.09" lengthAdjust="spacingAndGlyphs">d</text>
<text class="s" x="1597.79" y="616.10" font-size="34.20" fill="#000" stroke="#000" textLength="68.92" lengthAdjust="spacingAndGlyphs">NPC</text>
<text class="s" x="1197.15" y="678.40" font-size="23.60" fill="#231f20" stroke="#231f20" textLength="13.13" lengthAdjust="spacingAndGlyphs">5</text>
<text class="s" x="1197.15" y="789.50" font-size="23.60" fill="#231f20" stroke="#231f20" textLength="13.13" lengthAdjust="spacingAndGlyphs">5</text>
<text class="r" x="1134.80" y="899.13" font-size="30.40" fill="#231f20" stroke="#231f20" textLength="246.57" lengthAdjust="spacingAndGlyphs" transform="rotate(-90 1134.80 899.13)">Normalized RNAseq</text>
<text class="r" x="1168.40" y="837.98" font-size="30.40" fill="#231f20" stroke="#231f20" textLength="133.48" lengthAdjust="spacingAndGlyphs" transform="rotate(-90 1168.40 837.98)">read counts</text>
<text class="s" x="1983.14" y="684.90" font-size="33.60" fill="#b4202d" stroke="#b4202d" textLength="106.92" lengthAdjust="spacingAndGlyphs">Control</text>
<text class="s" x="1985.42" y="804.10" font-size="33.60" fill="#b4202d" stroke="#b4202d" textLength="104.33" lengthAdjust="spacingAndGlyphs">Hsp90i</text>
<line x1="1215.4" y1="761.0" x2="2102.0" y2="761.0" stroke="#b7b7b7" stroke-width="1.60"/>
<line x1="1215.4" y1="878.1" x2="2102.0" y2="878.1" stroke="#b7b7b7" stroke-width="1.60"/>
<path d="M1287.2,760.2V759.4 H1290.3V757.4 H1301.2V754.5 H1305.1V752.4 H1307.1V749.3 H1308.2V734.6 H1310.2V730.4 H1314.1V727.6 H1318.0V730.4 H1319.0V734.6 H1322.9V742.3 H1325.2V734.6 H1329.1V725.6 H1330.2V712.4 H1334.3V714.4 H1336.1V705.4 H1338.9V715.5 H1341.1V722.5 H1345.1V729.5 H1347.0V735.4 H1349.0V740.3 H1350.1V745.4 H1352.1V742.3 H1356.0V744.4 H1359.9V749.3 H1361.0V739.4 H1363.3V734.6 H1365.3V730.4 H1367.2V727.6 H1370.0V734.6 H1371.8V717.5 H1374.2V710.5 H1378.0V712.4 H1380.1V717.5 H1381.1V724.5 H1386.9V727.6 H1388.9V732.2 H1392.0V739.4 H1393.9V742.3 H1395.9V747.5 H1397.9V752.4 H1399.8V754.5 H1409.1V752.4 H1412.2V750.6 H1414.1V745.4 H1416.1V734.6 H1418.1V724.5 H1421.1V722.5 H1422.3V710.5 H1427.0V705.4 H1430.8V695.3 H1433.2V680.5 H1436.0V682.6 H1438.1V685.4 H1440.2V690.3 H1442.0V669.4 H1444.0V660.4 H1447.1V669.4 H1449.0V687.5 H1451.0V695.3 H1452.9V704.3 H1455.7V708.5 H1457.7V712.4 H1460.3V715.5 H1462.2V697.3 H1465.0V709.6 H1468.9V715.5 H1470.9V727.6 H1473.1V724.5 H1478.2V715.5 H1482.1V724.5 H1484.1V729.5 H1486.0V734.6 H1487.0V742.3 H1493.0V744.4 H1496.1V752.4 H1497.9V757.4 H1499.9V759.4 H1501.8V760.2ZM1503.8,760.2V754.5 H1505.1V749.3 H1505.8V752.4 H1507.7V749.3 H1512.8V757.4 H1517.1V760.2ZM1518.2,760.2V757.4 H1520.1V754.5 H1522.1V747.5 H1523.9V742.3 H1527.0V739.4 H1530.9V742.3 H1533.0V752.4 H1536.8V754.5 H1537.9V752.4 H1542.0V754.5 H1543.8V752.4 H1545.8V749.3 H1547.7V747.5 H1549.7V745.4 H1553.9V744.4 H1557.0V742.3 H1562.1V744.4 H1564.0V747.5 H1568.7V749.3 H1569.1V747.5 H1573.0V750.6 H1574.9V757.4 H1577.2V760.2ZM1579.1,760.2V757.4 H1588.1V759.4 H1599.3V760.2ZM1600.2,760.2V759.4 H1605.9V757.4 H1610.0V747.5 H1611.1V742.3 H1616.8V744.4 H1619.1V747.5 H1627.7V749.3 H1630.0V752.4 H1632.0V757.4 H1633.1V754.5 H1637.0V760.2ZM1639.0,760.2V755.5 H1641.6V754.5 H1644.0V752.4 H1647.9V754.5 H1651.7V749.3 H1653.3V744.4 H1663.1V747.5 H1666.0V749.3 H1668.0V754.5 H1670.1V752.4 H1675.0V750.6 H1678.9V752.4 H1680.9V749.3 H1682.8V742.3 H1684.0V737.4 H1688.2V739.4 H1689.8V744.4 H1691.8V752.4 H1694.0V749.3 H1696.0V747.5 H1698.0V744.4 H1703.0V742.3 H1708.1V747.5 H1710.0V757.4 H1713.9V754.5 H1717.0V752.4 H1720.8V757.4 H1723.2V759.4 H1725.8V760.2ZM1728.1,760.2V759.4 H1737.1V760.2ZM1743.4,760.2V759.4 H1745.2V757.4 H1752.2V759.4 H1754.2V754.5 H1756.9V749.3 H1760.9V752.4 H1763.1V754.5 H1765.1V757.4 H1774.1V759.4 H1779.1V757.4 H1781.1V752.4 H1783.0V747.5 H1794.9V760.2ZM1795.0,760.2V747.5 H1798.9V752.4 H1805.1V747.5 H1809.0V744.4 H1813.9V747.5 H1816.0V752.4 H1820.9V747.5 H1823.0V734.6 H1825.0V730.4 H1828.9V732.2 H1832.0V739.4 H1835.8V734.6 H1838.0V732.2 H1841.6V734.6 H1843.1V742.3 H1845.0V747.5 H1847.0V754.5 H1849.0V757.4 H1852.0V759.4 H1854.0V760.2ZM1856.0,760.2V759.4 H1859.9V757.4 H1863.0V749.3 H1869.1V747.5 H1871.9V752.4 H1882.0V747.5 H1885.1V752.4 H1888.9V754.5 H1891.0V759.4 H1893.9V760.2ZM1895.9,760.2V759.4 H1901.8V757.4 H1905.2V752.4 H1909.1V749.3 H1913.8V757.4 H1917.7V759.4 H1920.0V754.5 H1923.9V757.4 H1929.0V759.4 H1944.8V757.4 H1949.0V752.4 H1951.1V749.3 H1954.9V752.4 H1958.0V759.4 H1963.9V757.4 H1972.8V754.5 H1975.1V750.6 H1977.9V747.5 H1981.8V749.3 H1987.1V754.5 H1989.1V757.4 H1991.0V759.4 H1993.0V760.2Z" fill="#000" shape-rendering="crispEdges"/>
<path d="M1305.1,877.4V872.4 H1313.9V877.4ZM1315.9,877.4V872.4 H1318.0V865.4 H1326.8V872.4 H1329.1V865.4 H1330.2V859.5 H1332.2V852.6 H1340.8V859.5 H1352.1V872.4 H1354.0V865.4 H1356.0V859.5 H1367.2V839.4 H1370.0V845.6 H1374.2V849.4 H1378.0V859.5 H1383.0V865.4 H1385.0V859.5 H1393.9V872.4 H1395.9V877.4ZM1409.1,877.4V872.4 H1420.0V865.4 H1422.3V852.6 H1425.1V839.4 H1429.0V835.5 H1430.8V832.4 H1433.2V825.4 H1433.9V819.5 H1438.1V832.4 H1442.0V852.6 H1444.0V845.6 H1451.0V839.4 H1457.7V845.6 H1459.9V862.6 H1463.4V872.4 H1465.0V865.4 H1473.1V872.4 H1478.2V877.4ZM1484.1,877.4V872.4 H1485.2V865.4 H1493.0V872.4 H1495.0V877.4ZM1503.8,877.4V872.4 H1505.1V872.4 H1513.1V877.4ZM1517.1,877.4V872.4 H1518.2V865.4 H1520.1V859.5 H1523.9V852.6 H1526.7V859.5 H1530.9V865.4 H1536.8V872.4 H1539.9V859.5 H1548.0V872.4 H1548.9V877.4ZM1567.9,877.4V872.4 H1573.0V865.4 H1578.8V872.4 H1580.0V877.4ZM1610.0,877.4V872.4 H1611.1V865.4 H1618.8V872.4 H1621.0V877.4ZM1639.0,877.4V872.4 H1647.9V877.4ZM1653.0,877.4V872.4 H1655.0V865.4 H1659.0V852.6 H1668.0V865.4 H1671.9V877.4ZM1673.0,877.4V872.4 H1682.8V865.4 H1684.0V859.5 H1685.9V852.6 H1694.0V872.4 H1697.1V865.4 H1703.0V852.6 H1708.1V859.5 H1710.0V877.4ZM1741.0,877.4V872.4 H1749.9V877.4ZM1756.9,877.4V872.4 H1767.1V877.4ZM1779.1,877.4V865.4 H1786.8V872.4 H1787.9V877.4ZM1807.1,877.4V872.4 H1818.0V865.4 H1819.8V859.5 H1828.9V852.6 H1832.0V859.5 H1833.8V865.4 H1841.1V872.4 H1845.0V877.4ZM1871.1,877.4V872.4 H1882.0V865.4 H1883.0V859.5 H1888.9V865.4 H1891.0V872.4 H1893.9V877.4ZM1902.9,877.4V872.4 H1913.0V877.4ZM1916.1,877.4V872.4 H1925.0V877.4ZM1968.9,877.4V872.4 H1987.1V877.4Z" fill="#000" shape-rendering="crispEdges"/>
<rect x="1221.0" y="889.0" width="4.9" height="15.6" fill="#000"/>
<rect x="1232.3" y="889.0" width="6.2" height="15.6" fill="#000"/>
<rect x="1261.2" y="889.0" width="1.8" height="15.6" fill="#000"/>
<rect x="1285.0" y="889.0" width="35.6" height="15.6" fill="#000"/>
<polyline points="1318.2,892.3 1312.2,897.6 1318.2,902.9" fill="none" stroke="#fff" stroke-width="2.2" stroke-linejoin="miter" stroke-opacity="0.93"/>
<rect x="1956.0" y="889.0" width="36.9" height="15.6" fill="#000"/>
<polyline points="1991.0,892.3 1985.0,897.6 1991.0,902.9" fill="none" stroke="#fff" stroke-width="2.2" stroke-linejoin="miter" stroke-opacity="0.93"/>
<rect x="2011.0" y="889.0" width="29.4" height="15.6" fill="#000"/>
<polyline points="2033.0,892.3 2039.0,897.6 2033.0,902.9" fill="none" stroke="#fff" stroke-width="2.2" stroke-linejoin="miter" stroke-opacity="0.93"/>
<rect x="2042.0" y="889.0" width="44.3" height="15.6" fill="#000"/>
<polyline points="2076.7,892.3 2070.7,897.6 2076.7,902.9" fill="none" stroke="#fff" stroke-width="2.2" stroke-linejoin="miter" stroke-opacity="0.93"/>
<text class="s" x="1230.10" y="941.20" font-size="24.80" fill="#262324" stroke="#262324" textLength="186.75" lengthAdjust="spacingAndGlyphs">MMERGLN_LTR</text>
<text class="s" x="1852.00" y="941.20" font-size="24.80" fill="#262324" stroke="#262324" textLength="186.75" lengthAdjust="spacingAndGlyphs">MMERGLN_LTR</text>
<text class="s" x="1520.11" y="968.30" font-size="24.80" fill="#262324" stroke="#262324" textLength="161.36" lengthAdjust="spacingAndGlyphs">MMERGLN-int</text>
<rect x="1217.5" y="984.2" width="3.5" height="15.4" fill="#000"/>
<rect x="1225.9" y="984.2" width="5.9" height="15.4" fill="#000"/>
<rect x="1239.3" y="984.2" width="14.5" height="15.4" fill="#000"/>
<rect x="1320.9" y="984.2" width="635.1" height="15.4" fill="#000"/>
<polyline points="1355.5,987.4 1349.5,992.7 1355.5,998.0" fill="none" stroke="#fff" stroke-width="2.2" stroke-linejoin="miter" stroke-opacity="0.93"/>
<polyline points="1410.2,987.4 1404.2,992.7 1410.2,998.0" fill="none" stroke="#fff" stroke-width="2.2" stroke-linejoin="miter" stroke-opacity="0.93"/>
<polyline points="1464.8,987.4 1458.8,992.7 1464.8,998.0" fill="none" stroke="#fff" stroke-width="2.2" stroke-linejoin="miter" stroke-opacity="0.93"/>
<polyline points="1519.5,987.4 1513.5,992.7 1519.5,998.0" fill="none" stroke="#fff" stroke-width="2.2" stroke-linejoin="miter" stroke-opacity="0.93"/>
<polyline points="1574.1,987.4 1568.1,992.7 1574.1,998.0" fill="none" stroke="#fff" stroke-width="2.2" stroke-linejoin="miter" stroke-opacity="0.93"/>
<polyline points="1628.8,987.4 1622.8,992.7 1628.8,998.0" fill="none" stroke="#fff" stroke-width="2.2" stroke-linejoin="miter" stroke-opacity="0.93"/>
<polyline points="1683.4,987.4 1677.4,992.7 1683.4,998.0" fill="none" stroke="#fff" stroke-width="2.2" stroke-linejoin="miter" stroke-opacity="0.93"/>
<polyline points="1738.0,987.4 1732.0,992.7 1738.0,998.0" fill="none" stroke="#fff" stroke-width="2.2" stroke-linejoin="miter" stroke-opacity="0.93"/>
<polyline points="1792.7,987.4 1786.7,992.7 1792.7,998.0" fill="none" stroke="#fff" stroke-width="2.2" stroke-linejoin="miter" stroke-opacity="0.93"/>
<polyline points="1847.3,987.4 1841.3,992.7 1847.3,998.0" fill="none" stroke="#fff" stroke-width="2.2" stroke-linejoin="miter" stroke-opacity="0.93"/>
<polyline points="1902.0,987.4 1896.0,992.7 1902.0,998.0" fill="none" stroke="#fff" stroke-width="2.2" stroke-linejoin="miter" stroke-opacity="0.93"/>
<polyline points="1956.7,987.4 1950.7,992.7 1956.7,998.0" fill="none" stroke="#fff" stroke-width="2.2" stroke-linejoin="miter" stroke-opacity="0.93"/>
<rect x="1215.4" y="646.0" width="887.5" height="387.5" fill="none" stroke="#231f20" stroke-width="4.1"/>
<text class="s" x="29.81" y="1109.30" font-size="48.80" font-weight="bold" fill="#231f20" stroke="#231f20" textLength="28.49" lengthAdjust="spacingAndGlyphs">e</text>
<text class="s" x="431.05" y="1122.90" font-size="34.20" fill="#000" stroke="#000" textLength="200.51" lengthAdjust="spacingAndGlyphs">Macrophages</text>
<text class="s" x="117.51" y="1192.80" font-size="23.60" fill="#231f20" stroke="#231f20" textLength="13.13" lengthAdjust="spacingAndGlyphs">4</text>
<text class="s" x="117.51" y="1304.50" font-size="23.60" fill="#231f20" stroke="#231f20" textLength="13.13" lengthAdjust="spacingAndGlyphs">4</text>
<text class="r" x="49.70" y="1396.13" font-size="30.40" fill="#231f20" stroke="#231f20" textLength="245.77" lengthAdjust="spacingAndGlyphs" transform="rotate(-90 49.70 1396.13)">Normalized RNAseq</text>
<text class="r" x="84.00" y="1335.88" font-size="30.40" fill="#231f20" stroke="#231f20" textLength="133.88" lengthAdjust="spacingAndGlyphs" transform="rotate(-90 84.00 1335.88)">read counts</text>
<text class="s" x="950.24" y="1202.00" font-size="33.60" fill="#b4202d" stroke="#b4202d" textLength="107.02" lengthAdjust="spacingAndGlyphs">Control</text>
<text class="s" x="952.93" y="1320.50" font-size="33.60" fill="#b4202d" stroke="#b4202d" textLength="104.02" lengthAdjust="spacingAndGlyphs">Hsp90i</text>
<line x1="139.3" y1="1278.9" x2="1064.0" y2="1278.9" stroke="#b7b7b7" stroke-width="1.60"/>
<line x1="139.3" y1="1395.2" x2="1064.0" y2="1395.2" stroke="#b7b7b7" stroke-width="1.60"/>
<path d="M152.1,1278.2V1277.1 H164.1V1278.2ZM168.0,1278.2V1277.1 H180.1V1278.2ZM192.0,1278.2V1277.1 H194.0V1275.6 H195.9V1272.5 H197.0V1265.5 H199.0V1252.3 H201.0V1247.6 H202.9V1235.5 H204.1V1233.6 H208.0V1235.5 H211.0V1240.6 H212.2V1248.4 H215.0V1252.3 H216.9V1258.0 H218.1V1257.4 H223.9V1262.4 H224.9V1268.6 H227.0V1271.7 H230.8V1272.5 H238.9V1275.6 H240.9V1277.1 H257.2V1275.6 H261.9V1272.5 H267.0V1275.6 H268.9V1277.1 H270.9V1275.6 H274.0V1277.1 H284.9V1278.2ZM286.0,1278.2V1277.1 H299.2V1278.2ZM320.9,1278.2V1277.1 H326.8V1275.6 H329.8V1272.5 H334.1V1275.6 H339.1V1277.1 H348.1V1272.5 H352.7V1275.6 H360.0V1277.1 H361.3V1275.6 H369.8V1277.1 H374.0V1275.6 H386.1V1277.1 H398.1V1278.2ZM422.9,1278.2V1277.1 H430.1V1277.1 H435.1V1275.6 H447.1V1278.2ZM452.0,1278.2V1277.1 H463.9V1278.2ZM533.0,1278.2V1277.1 H555.0V1278.2ZM583.0,1278.2V1277.1 H595.1V1278.2ZM601.1,1278.2V1275.6 H613.2V1277.1 H614.8V1275.6 H617.9V1270.6 H620.2V1265.5 H623.0V1260.3 H629.1V1265.5 H630.0V1270.6 H631.9V1272.5 H636.1V1275.6 H643.0V1272.5 H648.2V1270.6 H653.1V1272.5 H657.0V1275.6 H669.1V1278.2ZM677.2,1278.2V1275.6 H679.2V1272.5 H681.6V1268.6 H686.2V1265.5 H688.1V1262.4 H690.1V1260.3 H693.2V1263.1 H695.1V1260.3 H697.9V1268.6 H699.1V1270.6 H701.7V1275.6 H705.2V1277.1 H709.0V1278.2ZM718.8,1278.2V1277.1 H720.1V1278.2ZM721.4,1278.2V1272.9 H728.2V1271.0 H736.3V1268.8 H741.7V1271.0 H743.6V1267.9 H745.9V1263.7 H749.0V1268.8 H753.0V1271.0 H755.9V1278.2ZM758.0,1278.2V1272.9 H764.4V1271.0 H766.7V1267.0 H771.1V1263.7 H777.1V1268.8 H780.7V1271.0 H785.6V1272.9 H787.9V1276.0 H792.5V1278.2ZM796.1,1278.2V1277.1 H803.0V1275.7 H809.7V1277.1 H815.1V1278.2ZM817.3,1278.2V1277.1 H819.1V1276.0 H822.4V1272.9 H824.2V1271.0 H828.7V1272.9 H832.3V1275.1 H835.9V1272.9 H839.9V1268.8 H846.8V1269.9 H850.4V1268.8 H857.1V1265.7 H863.1V1268.8 H866.4V1271.0 H868.6V1275.1 H877.6V1271.0 H880.0V1263.7 H884.9V1265.7 H886.7V1268.8 H890.3V1272.9 H892.1V1278.2ZM896.1,1278.2V1272.9 H910.2V1275.1 H911.5V1272.9 H913.8V1271.0 H919.3V1268.8 H920.2V1260.6 H923.8V1263.7 H925.1V1260.6 H931.1V1268.8 H934.7V1271.0 H938.8V1277.1 H944.6V1278.2ZM946.4,1278.2V1277.1 H959.1V1271.0 H963.7V1260.6 H966.7V1257.5 H970.9V1260.6 H972.7V1258.6 H975.4V1260.6 H978.7V1258.6 H984.9V1268.8 H989.9V1271.0 H992.6V1275.1 H995.4V1272.9 H999.9V1271.0 H1002.6V1272.9 H1010.8V1275.1 H1015.3V1277.1 H1021.1V1278.2Z" fill="#000" shape-rendering="crispEdges"/>
<path d="M187.0,1394.6V1391.6 H190.0V1387.6 H192.0V1379.5 H194.0V1376.4 H197.0V1359.7 H199.0V1334.5 H201.0V1329.5 H204.1V1322.6 H208.0V1326.4 H211.0V1341.5 H215.0V1344.6 H220.0V1349.6 H222.0V1352.4 H223.9V1367.6 H232.1V1364.8 H233.9V1361.7 H237.8V1367.6 H238.9V1372.6 H243.0V1376.4 H245.0V1384.7 H246.1V1379.5 H247.9V1364.8 H252.6V1367.6 H254.1V1372.6 H257.2V1376.4 H259.6V1387.6 H270.9V1394.6ZM272.0,1394.6V1384.7 H277.9V1372.6 H279.0V1364.8 H288.0V1356.7 H291.9V1360.9 H293.0V1364.8 H296.8V1372.6 H299.2V1379.5 H299.9V1387.6 H302.0V1394.6ZM308.9,1394.6V1391.6 H324.8V1387.6 H327.1V1384.7 H334.1V1387.6 H339.1V1384.7 H348.9V1387.6 H350.9V1391.6 H355.8V1387.6 H368.0V1391.6 H381.0V1387.6 H383.8V1391.6 H395.1V1394.6ZM417.2,1394.6V1391.6 H426.0V1387.6 H430.1V1387.6 H433.1V1379.5 H437.0V1376.4 H440.1V1379.5 H445.1V1387.6 H448.9V1391.6 H452.0V1394.6ZM456.9,1394.6V1391.6 H458.0V1387.6 H461.1V1379.5 H462.9V1372.6 H468.0V1376.4 H473.0V1379.5 H475.0V1387.6 H477.0V1391.6 H480.0V1394.6ZM527.0,1394.6V1391.6 H528.9V1387.6 H530.9V1384.7 H539.9V1387.6 H543.0V1391.6 H553.9V1394.6ZM564.0,1394.6V1391.6 H567.1V1387.6 H576.0V1391.6 H580.0V1394.6ZM608.9,1394.6V1387.6 H613.2V1379.5 H616.0V1372.6 H617.9V1367.6 H620.2V1364.8 H622.1V1341.5 H623.0V1336.5 H625.2V1317.4 H627.2V1306.6 H629.1V1294.6 H636.1V1306.6 H637.0V1312.0 H638.1V1317.4 H640.9V1326.4 H642.7V1336.5 H644.3V1341.5 H648.2V1356.7 H650.0V1364.8 H651.3V1367.6 H653.1V1364.8 H658.0V1352.4 H660.1V1341.5 H662.9V1349.6 H665.2V1352.4 H668.7V1364.8 H670.2V1372.6 H671.8V1379.5 H676.1V1376.4 H681.1V1367.6 H683.1V1361.7 H685.9V1364.8 H691.2V1367.6 H695.1V1364.8 H700.2V1361.7 H704.1V1372.6 H705.2V1376.4 H707.2V1384.7 H709.0V1387.6 H718.8V1384.7 H719.6V1379.5 H720.1V1380.5 H724.5V1385.0 H726.0V1380.5 H737.2V1377.2 H739.0V1373.2 H743.6V1380.5 H745.9V1373.2 H749.0V1377.2 H751.3V1380.5 H753.5V1365.1 H758.0V1366.9 H761.3V1356.9 H765.3V1353.3 H766.2V1325.2 H768.0V1307.1 H772.9V1318.0 H774.9V1317.1 H778.9V1329.7 H779.8V1343.3 H782.1V1337.9 H786.7V1350.0 H788.8V1356.9 H793.0V1365.1 H798.3V1362.4 H803.0V1350.0 H805.1V1342.1 H809.7V1356.9 H812.0V1365.1 H814.2V1373.2 H815.1V1387.7 H817.3V1380.5 H822.4V1373.2 H824.2V1362.4 H828.7V1373.2 H831.1V1365.1 H835.9V1368.2 H842.3V1360.2 H845.0V1352.0 H847.4V1344.2 H849.5V1336.1 H850.4V1330.1 H854.1V1327.0 H857.1V1317.1 H859.1V1314.9 H864.0V1337.9 H866.4V1343.3 H868.2V1350.0 H870.4V1343.3 H873.1V1335.2 H875.4V1330.1 H880.0V1314.9 H883.0V1318.9 H884.9V1327.0 H887.0V1330.1 H889.4V1343.3 H891.2V1365.1 H892.1V1376.8 H893.9V1368.2 H896.6V1365.1 H899.0V1362.4 H901.2V1356.9 H903.9V1353.3 H906.2V1342.1 H909.9V1350.0 H911.1V1337.9 H914.7V1342.1 H917.1V1352.0 H920.2V1350.0 H923.8V1353.3 H928.7V1350.0 H931.6V1356.9 H935.6V1362.4 H937.4V1365.1 H939.7V1377.2 H941.0V1391.3 H943.2V1385.0 H945.5V1388.1 H954.6V1385.0 H957.0V1380.5 H959.1V1377.2 H961.8V1362.4 H963.7V1350.0 H966.0V1337.9 H967.3V1330.1 H972.7V1300.8 H977.2V1337.9 H979.4V1343.3 H981.2V1337.9 H984.9V1356.9 H986.3V1365.1 H991.7V1378.7 H992.6V1391.3 H994.8V1394.6ZM1008.9,1394.6V1391.3 H1011.7V1388.1 H1016.2V1385.0 H1020.7V1388.1 H1030.1V1391.3 H1034.7V1394.6ZM1048.8,1394.6V1388.1 H1061.5V1394.6Z" fill="#000" shape-rendering="crispEdges"/>
<rect x="154.0" y="1407.4" width="52.0" height="15.5" fill="#000"/>
<polyline points="175.0,1410.7 181.0,1416.0 175.0,1421.2" fill="none" stroke="#fff" stroke-width="2.2" stroke-linejoin="miter" stroke-opacity="0.93"/>
<rect x="1009.0" y="1407.4" width="52.5" height="15.5" fill="#000"/>
<polyline points="1030.3,1410.7 1036.3,1416.0 1030.3,1421.2" fill="none" stroke="#fff" stroke-width="2.2" stroke-linejoin="miter" stroke-opacity="0.93"/>
<text class="s" x="194.45" y="1458.40" font-size="24.80" fill="#262324" stroke="#262324" textLength="154.92" lengthAdjust="spacingAndGlyphs">IAPLTR1_Mm</text>
<text class="s" x="907.26" y="1462.60" font-size="24.80" fill="#262324" stroke="#262324" textLength="154.51" lengthAdjust="spacingAndGlyphs">IAPLTR1_Mm</text>
<text class="s" x="586.87" y="1487.20" font-size="24.80" fill="#262324" stroke="#262324" textLength="103.20" lengthAdjust="spacingAndGlyphs">IAPEz-int</text>
<rect x="206.0" y="1502.1" width="803.0" height="16.0" fill="#000"/>
<polyline points="227.0,1505.6 233.0,1510.9 227.0,1516.2" fill="none" stroke="#fff" stroke-width="2.2" stroke-linejoin="miter" stroke-opacity="0.93"/>
<polyline points="279.4,1505.6 285.4,1510.9 279.4,1516.2" fill="none" stroke="#fff" stroke-width="2.2" stroke-linejoin="miter" stroke-opacity="0.93"/>
<polyline points="331.9,1505.6 337.9,1510.9 331.9,1516.2" fill="none" stroke="#fff" stroke-width="2.2" stroke-linejoin="miter" stroke-opacity="0.93"/>
<polyline points="384.4,1505.6 390.4,1510.9 384.4,1516.2" fill="none" stroke="#fff" stroke-width="2.2" stroke-linejoin="miter" stroke-opacity="0.93"/>
<polyline points="436.8,1505.6 442.8,1510.9 436.8,1516.2" fill="none" stroke="#fff" stroke-width="2.2" stroke-linejoin="miter" stroke-opacity="0.93"/>
<polyline points="489.2,1505.6 495.2,1510.9 489.2,1516.2" fill="none" stroke="#fff" stroke-width="2.2" stroke-linejoin="miter" stroke-opacity="0.93"/>
<polyline points="541.7,1505.6 547.7,1510.9 541.7,1516.2" fill="none" stroke="#fff" stroke-width="2.2" stroke-linejoin="miter" stroke-opacity="0.93"/>
<polyline points="594.2,1505.6 600.2,1510.9 594.2,1516.2" fill="none" stroke="#fff" stroke-width="2.2" stroke-linejoin="miter" stroke-opacity="0.93"/>
<polyline points="646.6,1505.6 652.6,1510.9 646.6,1516.2" fill="none" stroke="#fff" stroke-width="2.2" stroke-linejoin="miter" stroke-opacity="0.93"/>
<polyline points="699.0,1505.6 705.0,1510.9 699.0,1516.2" fill="none" stroke="#fff" stroke-width="2.2" stroke-linejoin="miter" stroke-opacity="0.93"/>
<polyline points="751.5,1505.6 757.5,1510.9 751.5,1516.2" fill="none" stroke="#fff" stroke-width="2.2" stroke-linejoin="miter" stroke-opacity="0.93"/>
<polyline points="804.0,1505.6 810.0,1510.9 804.0,1516.2" fill="none" stroke="#fff" stroke-width="2.2" stroke-linejoin="miter" stroke-opacity="0.93"/>
<polyline points="856.4,1505.6 862.4,1510.9 856.4,1516.2" fill="none" stroke="#fff" stroke-width="2.2" stroke-linejoin="miter" stroke-opacity="0.93"/>
<polyline points="908.9,1505.6 914.9,1510.9 908.9,1516.2" fill="none" stroke="#fff" stroke-width="2.2" stroke-linejoin="miter" stroke-opacity="0.93"/>
<polyline points="961.3,1505.6 967.3,1510.9 961.3,1516.2" fill="none" stroke="#fff" stroke-width="2.2" stroke-linejoin="miter" stroke-opacity="0.93"/>
<rect x="139.3" y="1161.7" width="925.6" height="366.4" fill="none" stroke="#231f20" stroke-width="4.1"/>
<text class="s" x="1102.35" y="1108.60" font-size="47.60" font-weight="bold" fill="#231f20" stroke="#231f20" textLength="14.47" lengthAdjust="spacingAndGlyphs">f</text>
<text class="s" x="1516.63" y="1122.90" font-size="34.20" fill="#000" stroke="#000" textLength="202.24" lengthAdjust="spacingAndGlyphs">Macrophages</text>
<text class="s" x="1193.25" y="1178.00" font-size="23.60" fill="#231f20" stroke="#231f20" textLength="13.13" lengthAdjust="spacingAndGlyphs">9</text>
<text class="s" x="1193.25" y="1289.20" font-size="23.60" fill="#231f20" stroke="#231f20" textLength="13.13" lengthAdjust="spacingAndGlyphs">9</text>
<text class="r" x="1134.80" y="1390.34" font-size="30.40" fill="#231f20" stroke="#231f20" textLength="247.58" lengthAdjust="spacingAndGlyphs" transform="rotate(-90 1134.80 1390.34)">Normalized RNAseq</text>
<text class="r" x="1168.40" y="1328.88" font-size="30.40" fill="#231f20" stroke="#231f20" textLength="133.88" lengthAdjust="spacingAndGlyphs" transform="rotate(-90 1168.40 1328.88)">read counts</text>
<text class="s" x="1982.54" y="1181.90" font-size="33.60" fill="#b4202d" stroke="#b4202d" textLength="107.02" lengthAdjust="spacingAndGlyphs">Control</text>
<text class="s" x="1984.93" y="1300.40" font-size="33.60" fill="#b4202d" stroke="#b4202d" textLength="104.02" lengthAdjust="spacingAndGlyphs">Hsp90i</text>
<line x1="1215.3" y1="1262.7" x2="2100.0" y2="1262.7" stroke="#b7b7b7" stroke-width="1.60"/>
<line x1="1215.3" y1="1379.3" x2="2100.0" y2="1379.3" stroke="#b7b7b7" stroke-width="1.60"/>
<path d="M1275.1,1261.9V1259.3 H1277.1V1257.2 H1279.1V1254.1 H1281.0V1251.0 H1284.1V1252.3 H1288.0V1254.1 H1289.1V1259.3 H1293.1V1256.5 H1295.0V1252.3 H1298.1V1247.1 H1302.0V1242.2 H1305.1V1244.2 H1307.1V1246.4 H1308.9V1249.2 H1312.0V1241.2 H1313.9V1237.1 H1315.9V1234.3 H1318.0V1222.3 H1321.1V1226.2 H1322.9V1222.3 H1328.0V1212.2 H1332.2V1214.4 H1333.8V1226.2 H1335.0V1234.3 H1336.9V1229.3 H1338.9V1224.3 H1341.1V1217.2 H1343.9V1219.2 H1348.1V1224.3 H1350.1V1231.3 H1352.9V1251.0 H1354.8V1252.3 H1357.1V1256.5 H1357.9V1249.2 H1364.1V1247.1 H1368.0V1245.1 H1371.1V1241.2 H1373.9V1249.2 H1376.0V1252.3 H1378.0V1254.1 H1380.1V1249.2 H1381.1V1247.1 H1383.0V1241.2 H1388.1V1237.1 H1393.9V1236.3 H1396.7V1241.2 H1399.0V1246.4 H1401.0V1244.2 H1402.9V1239.4 H1404.0V1232.4 H1408.0V1229.3 H1410.2V1221.2 H1413.0V1217.2 H1416.9V1227.3 H1418.1V1237.1 H1420.0V1234.3 H1422.3V1231.3 H1423.9V1221.5 H1433.9V1226.2 H1437.8V1231.3 H1439.8V1241.2 H1440.9V1229.3 H1443.0V1226.2 H1445.1V1221.2 H1447.1V1216.1 H1449.9V1219.2 H1454.1V1222.3 H1456.0V1221.2 H1464.2V1213.8 H1466.1V1204.1 H1470.1V1197.1 H1475.1V1202.1 H1477.4V1204.1 H1479.0V1214.4 H1486.0V1218.4 H1487.0V1222.3 H1490.2V1226.2 H1491.1V1229.3 H1493.0V1234.3 H1494.0V1246.4 H1496.1V1237.1 H1497.9V1227.3 H1499.9V1219.2 H1502.3V1202.1 H1505.1V1192.0 H1510.1V1206.3 H1512.0V1224.6 H1514.0V1234.3 H1515.9V1236.3 H1517.1V1234.3 H1521.3V1232.4 H1523.3V1227.3 H1528.0V1232.4 H1532.2V1230.1 H1536.8V1224.3 H1539.2V1221.2 H1542.3V1222.3 H1545.8V1207.1 H1546.9V1191.2 H1548.9V1179.3 H1553.1V1184.3 H1555.0V1188.9 H1555.9V1217.2 H1558.0V1221.2 H1562.0V1216.1 H1565.1V1219.2 H1567.1V1232.4 H1569.1V1237.1 H1570.2V1242.2 H1574.1V1244.2 H1576.0V1234.3 H1578.0V1231.3 H1583.1V1234.3 H1585.0V1242.2 H1586.1V1246.4 H1589.9V1242.2 H1592.0V1231.3 H1593.0V1226.2 H1595.1V1222.3 H1598.9V1226.2 H1600.0V1229.3 H1603.9V1227.3 H1605.9V1226.2 H1609.0V1237.1 H1611.1V1244.2 H1612.9V1252.3 H1615.2V1261.3 H1623.0V1261.9ZM1625.0,1261.9V1257.2 H1626.9V1256.5 H1628.9V1252.3 H1638.1V1256.5 H1640.9V1259.3 H1642.9V1257.2 H1646.0V1261.3 H1649.9V1261.9ZM1655.0,1261.9V1261.3 H1659.0V1256.5 H1661.1V1252.3 H1664.2V1247.1 H1669.1V1249.2 H1673.0V1254.1 H1675.0V1252.3 H1676.1V1247.1 H1678.1V1241.2 H1682.0V1237.1 H1685.1V1242.2 H1686.7V1251.0 H1689.0V1254.1 H1691.0V1257.2 H1699.1V1254.1 H1701.0V1246.4 H1703.0V1236.3 H1705.0V1222.3 H1706.1V1216.1 H1708.1V1202.1 H1712.3V1192.0 H1717.0V1186.3 H1720.8V1199.2 H1723.9V1207.1 H1726.0V1216.1 H1730.9V1226.2 H1733.0V1239.4 H1735.1V1246.4 H1737.1V1247.1 H1737.9V1239.4 H1739.9V1232.4 H1741.8V1226.2 H1747.2V1222.3 H1751.1V1221.2 H1751.9V1204.1 H1754.2V1201.0 H1758.1V1192.0 H1760.1V1186.3 H1761.2V1174.2 H1763.1V1162.2 H1767.1V1170.3 H1768.2V1172.3 H1770.1V1191.2 H1772.1V1189.2 H1779.1V1192.0 H1781.1V1195.1 H1783.0V1197.1 H1784.0V1204.1 H1786.1V1212.2 H1787.9V1226.2 H1789.9V1229.3 H1791.8V1232.4 H1793.8V1237.1 H1795.1V1246.4 H1798.1V1244.2 H1800.1V1241.2 H1802.0V1237.1 H1807.1V1244.2 H1809.0V1247.1 H1816.0V1249.2 H1819.1V1246.4 H1820.9V1224.3 H1823.0V1216.1 H1827.9V1222.3 H1829.9V1226.2 H1832.0V1232.4 H1833.8V1246.4 H1835.8V1249.2 H1837.7V1253.4 H1839.7V1257.2 H1841.6V1259.3 H1845.9V1261.3 H1850.9V1257.2 H1852.8V1251.0 H1855.1V1247.1 H1856.0V1241.2 H1857.1V1236.3 H1859.1V1232.4 H1862.1V1226.2 H1866.0V1229.3 H1868.0V1237.1 H1870.0V1241.2 H1871.9V1244.2 H1873.1V1254.1 H1876.1V1257.2 H1881.2V1256.5 H1885.1V1254.1 H1895.9V1252.3 H1901.1V1254.1 H1908.0V1251.0 H1913.0V1254.1 H1916.9V1257.2 H1920.0V1259.3 H1922.0V1261.9ZM1926.2,1261.9V1261.3 H1934.0V1261.9ZM1939.9,1261.9V1259.3 H1941.7V1254.1 H1943.0V1246.4 H1945.0V1244.2 H1949.0V1246.4 H1951.8V1249.2 H1953.9V1252.3 H1956.0V1257.2 H1959.1V1249.2 H1963.0V1252.3 H1966.1V1244.2 H1968.1V1237.1 H1970.0V1234.3 H1972.0V1231.3 H1975.1V1232.4 H1977.0V1236.3 H1979.0V1242.2 H1980.1V1251.0 H1982.1V1256.5 H1984.0V1259.3 H1986.0V1261.3 H1991.0V1257.2 H1993.0V1247.1 H1996.1V1246.4 H2005.1V1242.2 H2009.0V1245.1 H2011.6V1246.4 H2013.9V1249.2 H2016.0V1247.1 H2023.0V1249.2 H2025.1V1257.2 H2027.1V1259.3 H2029.0V1261.3 H2030.2V1261.9Z" fill="#000" shape-rendering="crispEdges"/>
<path d="M1275.1,1379.0V1377.1 H1279.1V1374.3 H1281.0V1372.0 H1284.1V1374.3 H1288.0V1377.1 H1289.1V1379.0ZM1293.1,1379.0V1377.1 H1295.0V1374.3 H1298.9V1372.0 H1302.0V1369.2 H1305.1V1371.2 H1312.0V1372.0 H1318.0V1367.4 H1321.1V1364.2 H1324.9V1366.3 H1328.0V1362.2 H1333.8V1367.4 H1335.0V1369.2 H1336.9V1372.0 H1341.1V1371.2 H1342.0V1369.2 H1348.1V1371.2 H1350.1V1373.1 H1352.9V1375.9 H1359.9V1377.1 H1365.0V1372.0 H1371.1V1366.3 H1373.9V1367.4 H1376.0V1372.0 H1378.0V1375.9 H1380.1V1377.1 H1381.1V1372.0 H1383.0V1369.2 H1385.8V1367.4 H1390.0V1374.3 H1392.0V1375.9 H1393.9V1373.1 H1397.0V1369.2 H1401.0V1371.2 H1404.0V1367.4 H1408.0V1369.2 H1410.2V1371.2 H1413.0V1373.1 H1415.0V1374.3 H1420.0V1373.1 H1422.3V1371.2 H1423.9V1364.2 H1427.0V1366.3 H1430.8V1371.2 H1433.9V1367.4 H1436.3V1362.2 H1439.8V1364.2 H1440.9V1362.2 H1445.1V1364.2 H1447.1V1362.2 H1449.9V1357.3 H1452.9V1356.2 H1457.2V1357.3 H1459.9V1361.1 H1463.0V1367.4 H1468.1V1361.1 H1470.1V1357.3 H1473.1V1351.4 H1477.1V1361.1 H1480.1V1366.3 H1482.1V1357.3 H1486.0V1356.2 H1488.3V1354.2 H1491.1V1357.3 H1493.0V1362.2 H1495.0V1367.4 H1496.8V1369.2 H1499.9V1366.3 H1505.1V1366.3 H1507.2V1362.2 H1512.0V1357.3 H1515.9V1361.1 H1521.0V1372.0 H1522.9V1375.9 H1523.9V1377.1 H1526.0V1379.0ZM1528.0,1379.0V1377.1 H1533.0V1374.3 H1538.9V1369.2 H1542.3V1367.4 H1546.9V1361.1 H1553.1V1359.1 H1555.9V1361.1 H1560.9V1362.2 H1562.8V1367.4 H1565.1V1372.0 H1569.1V1364.2 H1576.0V1366.3 H1578.0V1371.2 H1581.1V1372.0 H1583.1V1367.4 H1586.1V1371.2 H1589.9V1374.3 H1592.0V1369.2 H1595.1V1366.3 H1600.0V1369.2 H1602.0V1371.2 H1603.9V1374.3 H1605.9V1377.1 H1609.0V1379.0ZM1625.0,1379.0V1377.1 H1626.9V1375.9 H1631.1V1372.0 H1633.9V1374.3 H1638.1V1379.0ZM1661.8,1379.0V1377.1 H1663.9V1375.9 H1666.0V1372.0 H1669.1V1374.3 H1673.0V1375.9 H1676.1V1379.0ZM1703.0,1379.0V1377.1 H1705.0V1375.9 H1706.9V1374.3 H1710.0V1372.0 H1713.9V1371.2 H1717.0V1366.3 H1723.9V1367.4 H1726.0V1371.2 H1730.9V1374.3 H1735.1V1375.9 H1739.9V1374.3 H1741.8V1372.0 H1747.2V1371.2 H1749.1V1369.2 H1756.1V1374.3 H1758.1V1371.2 H1760.1V1369.2 H1772.1V1367.4 H1775.2V1374.3 H1777.0V1375.9 H1779.1V1374.3 H1781.1V1367.4 H1783.0V1364.2 H1785.0V1362.2 H1787.9V1366.3 H1791.8V1367.4 H1793.8V1369.2 H1795.1V1369.2 H1800.1V1367.4 H1804.0V1369.2 H1805.9V1372.0 H1807.1V1374.3 H1809.0V1369.2 H1811.3V1367.4 H1813.9V1364.2 H1818.0V1367.4 H1819.8V1369.2 H1823.0V1374.3 H1825.0V1371.2 H1826.8V1367.4 H1827.9V1366.3 H1833.0V1369.2 H1834.9V1372.0 H1836.9V1375.9 H1841.6V1377.1 H1850.9V1379.0ZM1855.1,1379.0V1374.3 H1857.1V1372.0 H1859.1V1369.2 H1862.1V1367.4 H1866.0V1371.2 H1868.0V1373.1 H1871.1V1377.1 H1874.2V1379.0ZM1890.0,1379.0V1377.1 H1895.9V1375.9 H1902.9V1374.3 H1906.0V1375.9 H1913.8V1377.1 H1918.9V1379.0ZM1939.9,1379.0V1377.1 H1956.0V1379.0ZM1961.1,1379.0V1377.1 H1963.9V1375.9 H1970.0V1377.1 H1972.8V1372.0 H1979.0V1369.2 H1982.1V1372.0 H1984.0V1373.1 H1987.1V1375.9 H1989.1V1377.1 H1993.0V1373.1 H1996.1V1369.2 H2000.0V1371.2 H2002.3V1369.2 H2005.1V1364.2 H2007.0V1362.2 H2010.1V1366.3 H2013.9V1372.0 H2016.0V1374.3 H2019.8V1374.3 H2023.0V1375.9 H2025.1V1377.1 H2030.2V1379.0Z" fill="#000" shape-rendering="crispEdges"/>
<rect x="1218.9" y="1391.2" width="19.0" height="15.5" fill="#000"/>
<polyline points="1235.0,1394.5 1229.0,1399.8 1235.0,1405.0" fill="none" stroke="#fff" stroke-width="2.2" stroke-linejoin="miter" stroke-opacity="0.93"/>
<rect x="1247.0" y="1391.2" width="17.7" height="15.5" fill="#000"/>
<rect x="1272.3" y="1391.2" width="57.6" height="15.5" fill="#000"/>
<polyline points="1304.6,1394.5 1298.6,1399.8 1304.6,1405.0" fill="none" stroke="#fff" stroke-width="2.2" stroke-linejoin="miter" stroke-opacity="0.93"/>
<rect x="1926.4" y="1391.2" width="4.2" height="15.5" fill="#000"/>
<rect x="1970.0" y="1391.2" width="57.9" height="15.5" fill="#000"/>
<polyline points="2002.6,1394.5 1996.6,1399.8 2002.6,1405.0" fill="none" stroke="#fff" stroke-width="2.2" stroke-linejoin="miter" stroke-opacity="0.93"/>
<rect x="2060.0" y="1391.2" width="13.7" height="15.5" fill="#000"/>
<rect x="2084.9" y="1391.2" width="4.4" height="15.5" fill="#000"/>
<text class="s" x="1233.40" y="1441.00" font-size="24.80" fill="#262324" stroke="#262324" textLength="132.77" lengthAdjust="spacingAndGlyphs">RLTR4_Mm</text>
<text class="s" x="1955.70" y="1440.80" font-size="24.80" fill="#262324" stroke="#262324" textLength="132.57" lengthAdjust="spacingAndGlyphs">RLTR4_Mm</text>
<text class="s" x="1511.72" y="1472.40" font-size="24.80" fill="#262324" stroke="#262324" textLength="166.36" lengthAdjust="spacingAndGlyphs">RLTR4_MM-int</text>
<text class="s" x="1835.22" y="1472.40" font-size="24.80" fill="#262324" stroke="#262324" textLength="166.25" lengthAdjust="spacingAndGlyphs">RLTR4_MM-int</text>
<rect x="1332.1" y="1486.2" width="593.5" height="15.5" fill="#000"/>
<polyline points="1364.4,1489.5 1358.4,1494.8 1364.4,1500.0" fill="none" stroke="#fff" stroke-width="2.2" stroke-linejoin="miter" stroke-opacity="0.93"/>
<polyline points="1417.5,1489.5 1411.5,1494.8 1417.5,1500.0" fill="none" stroke="#fff" stroke-width="2.2" stroke-linejoin="miter" stroke-opacity="0.93"/>
<polyline points="1470.5,1489.5 1464.5,1494.8 1470.5,1500.0" fill="none" stroke="#fff" stroke-width="2.2" stroke-linejoin="miter" stroke-opacity="0.93"/>
<polyline points="1523.6,1489.5 1517.6,1494.8 1523.6,1500.0" fill="none" stroke="#fff" stroke-width="2.2" stroke-linejoin="miter" stroke-opacity="0.93"/>
<polyline points="1576.6,1489.5 1570.6,1494.8 1576.6,1500.0" fill="none" stroke="#fff" stroke-width="2.2" stroke-linejoin="miter" stroke-opacity="0.93"/>
<polyline points="1629.7,1489.5 1623.7,1494.8 1629.7,1500.0" fill="none" stroke="#fff" stroke-width="2.2" stroke-linejoin="miter" stroke-opacity="0.93"/>
<polyline points="1682.8,1489.5 1676.8,1494.8 1682.8,1500.0" fill="none" stroke="#fff" stroke-width="2.2" stroke-linejoin="miter" stroke-opacity="0.93"/>
<polyline points="1735.8,1489.5 1729.8,1494.8 1735.8,1500.0" fill="none" stroke="#fff" stroke-width="2.2" stroke-linejoin="miter" stroke-opacity="0.93"/>
<polyline points="1788.9,1489.5 1782.9,1494.8 1788.9,1500.0" fill="none" stroke="#fff" stroke-width="2.2" stroke-linejoin="miter" stroke-opacity="0.93"/>
<polyline points="1841.9,1489.5 1835.9,1494.8 1841.9,1500.0" fill="none" stroke="#fff" stroke-width="2.2" stroke-linejoin="miter" stroke-opacity="0.93"/>
<polyline points="1895.0,1489.5 1889.0,1494.8 1895.0,1500.0" fill="none" stroke="#fff" stroke-width="2.2" stroke-linejoin="miter" stroke-opacity="0.93"/>
<rect x="1931.1" y="1486.2" width="38.9" height="15.5" fill="#000"/>
<polyline points="1963.5,1489.5 1957.5,1494.8 1963.5,1500.0" fill="none" stroke="#fff" stroke-width="2.2" stroke-linejoin="miter" stroke-opacity="0.93"/>
<rect x="2089.9" y="1486.2" width="8.9" height="15.5" fill="#000"/>
<rect x="1215.3" y="1145.8" width="887.4" height="382.3" fill="none" stroke="#231f20" stroke-width="4.1"/>
<text class="s" x="29.45" y="1651.30" font-size="48.80" font-weight="bold" fill="#231f20" stroke="#231f20" textLength="32.78" lengthAdjust="spacingAndGlyphs">g</text>
<rect x="40.80" y="1853.60" width="318.10" height="75.50" fill="none" stroke="#231f20" stroke-width="4.20"/>
<rect x="40.80" y="1927.40" width="318.10" height="76.10" fill="none" stroke="#231f20" stroke-width="4.20"/>
<text class="s" x="56.40" y="1902.00" font-size="33.60" fill="#000" stroke="#000" textLength="249.66" lengthAdjust="spacingAndGlyphs">Upregulated TEs</text>
<text class="s" x="56.24" y="1981.70" font-size="33.60" fill="#000" stroke="#000" textLength="292.02" lengthAdjust="spacingAndGlyphs">Downregulated TEs</text>
<rect x="367.30" y="1770.20" width="134.40" height="75.50" fill="none" stroke="#231f20" stroke-width="3.40"/>
<rect x="501.70" y="1770.20" width="121.60" height="75.50" fill="none" stroke="#231f20" stroke-width="3.40"/>
<rect x="623.20" y="1770.30" width="224.00" height="75.50" fill="none" stroke="#231f20" stroke-width="4.00"/>
<rect x="367.30" y="1853.20" width="134.40" height="75.10" fill="none" stroke="#231f20" stroke-width="3.40"/>
<rect x="501.70" y="1853.20" width="121.60" height="75.10" fill="none" stroke="#231f20" stroke-width="3.40"/>
<rect x="623.20" y="1853.20" width="224.00" height="76.10" fill="none" stroke="#231f20" stroke-width="4.00"/>
<rect x="367.30" y="1928.30" width="134.40" height="75.30" fill="none" stroke="#231f20" stroke-width="3.40"/>
<rect x="501.70" y="1928.30" width="121.60" height="75.30" fill="none" stroke="#231f20" stroke-width="3.40"/>
<rect x="623.20" y="1928.30" width="224.00" height="75.30" fill="none" stroke="#231f20" stroke-width="4.00"/>
<text class="s" x="410.46" y="1823.00" font-size="33.60" fill="#000" stroke="#000" textLength="67.87" lengthAdjust="spacingAndGlyphs">ESC</text>
<text class="s" x="525.50" y="1823.00" font-size="33.60" fill="#000" stroke="#000" textLength="71.15" lengthAdjust="spacingAndGlyphs">NPC</text>
<text class="s" x="646.31" y="1823.00" font-size="33.60" fill="#000" stroke="#000" textLength="186.67" lengthAdjust="spacingAndGlyphs">Macrophage</text>
<text class="s" x="408.81" y="1901.60" font-size="33.60" fill="#000" stroke="#000" textLength="55.35" lengthAdjust="spacingAndGlyphs">175</text>
<text class="s" x="549.79" y="1904.60" font-size="33.60" fill="#000" stroke="#000" textLength="36.35" lengthAdjust="spacingAndGlyphs">88</text>
<text class="s" x="698.32" y="1904.60" font-size="33.60" fill="#000" stroke="#000" textLength="53.01" lengthAdjust="spacingAndGlyphs">144</text>
<text class="s" x="408.81" y="1981.70" font-size="33.60" fill="#000" stroke="#000" textLength="55.35" lengthAdjust="spacingAndGlyphs">196</text>
<text class="s" x="536.13" y="1981.50" font-size="33.60" fill="#000" stroke="#000" textLength="54.89" lengthAdjust="spacingAndGlyphs">109</text>
<text class="s" x="698.32" y="1982.90" font-size="33.60" fill="#000" stroke="#000" textLength="53.01" lengthAdjust="spacingAndGlyphs">144</text>
<text class="s" x="879.64" y="1650.60" font-size="47.60" font-weight="bold" fill="#231f20" stroke="#231f20" textLength="30.60" lengthAdjust="spacingAndGlyphs">h</text>
<rect x="1106.0" y="1863.1" width="30.7" height="178.2" fill="#231f20"/>
<rect x="1135.0" y="1888.8" width="28.0" height="152.5" fill="#231f20"/>
<rect x="1137.8" y="1891.6" width="22.4" height="149.7" fill="#404041"/>
<rect x="1159.5" y="1851.0" width="30.3" height="190.3" fill="#231f20"/>
<rect x="1163.1" y="1854.6" width="23.1" height="186.7" fill="#6d6e70"/>
<rect x="1186.1" y="1802.1" width="29.8" height="239.2" fill="#231f20"/>
<rect x="1189.7" y="1805.7" width="22.6" height="235.6" fill="#d1d2d4"/>
<rect x="1212.6" y="1753.1" width="30.4" height="288.2" fill="#231f20"/>
<rect x="1216.2" y="1756.7" width="23.2" height="284.6" fill="#ededee"/>
<rect x="1119.5" y="1841.1" width="3.7" height="48.5" fill="#060606"/>
<rect x="1116.2" y="1841.1" width="10.2" height="3.7" fill="#060606"/>
<rect x="1116.2" y="1885.9" width="10.2" height="3.7" fill="#060606"/>
<rect x="1146.1" y="1866.4" width="3.7" height="48.3" fill="#060606"/>
<rect x="1142.8" y="1866.4" width="10.2" height="3.7" fill="#060606"/>
<rect x="1142.8" y="1911.0" width="10.2" height="3.7" fill="#060606"/>
<rect x="1172.8" y="1771.4" width="3.7" height="162.5" fill="#060606"/>
<rect x="1169.5" y="1771.4" width="10.2" height="3.7" fill="#060606"/>
<rect x="1169.5" y="1930.2" width="10.2" height="3.7" fill="#060606"/>
<rect x="1199.4" y="1762.8" width="3.7" height="83.1" fill="#060606"/>
<rect x="1196.1" y="1762.8" width="10.2" height="3.7" fill="#060606"/>
<rect x="1196.1" y="1842.2" width="10.2" height="3.7" fill="#060606"/>
<rect x="1226.1" y="1729.5" width="3.7" height="51.6" fill="#060606"/>
<rect x="1222.8" y="1729.5" width="10.2" height="3.7" fill="#060606"/>
<rect x="1222.8" y="1777.4" width="10.2" height="3.7" fill="#060606"/>
<rect x="1278.6" y="1955.0" width="31.3" height="86.3" fill="#231f20"/>
<rect x="1306.2" y="1950.9" width="29.8" height="90.4" fill="#231f20"/>
<rect x="1309.0" y="1953.7" width="24.2" height="87.6" fill="#404041"/>
<rect x="1336.0" y="1982.4" width="26.9" height="58.9" fill="#231f20"/>
<rect x="1339.6" y="1986.0" width="19.7" height="55.3" fill="#6d6e70"/>
<rect x="1359.1" y="1975.5" width="30.4" height="65.8" fill="#231f20"/>
<rect x="1362.7" y="1979.1" width="23.2" height="62.2" fill="#d1d2d4"/>
<rect x="1385.8" y="1971.2" width="30.3" height="70.1" fill="#231f20"/>
<rect x="1389.4" y="1974.8" width="23.1" height="66.5" fill="#ededee"/>
<rect x="1292.2" y="1949.9" width="3.7" height="14.4" fill="#060606"/>
<rect x="1289.0" y="1949.9" width="10.2" height="3.7" fill="#060606"/>
<rect x="1289.0" y="1960.6" width="10.2" height="3.7" fill="#060606"/>
<rect x="1319.1" y="1944.7" width="3.7" height="15.9" fill="#060606"/>
<rect x="1315.8" y="1944.7" width="10.2" height="3.7" fill="#060606"/>
<rect x="1315.8" y="1956.9" width="10.2" height="3.7" fill="#060606"/>
<rect x="1345.8" y="1972.1" width="3.7" height="24.4" fill="#060606"/>
<rect x="1342.5" y="1972.1" width="10.2" height="3.7" fill="#060606"/>
<rect x="1342.5" y="1992.8" width="10.2" height="3.7" fill="#060606"/>
<rect x="1372.2" y="1955.3" width="3.7" height="43.8" fill="#060606"/>
<rect x="1368.9" y="1955.3" width="10.2" height="3.7" fill="#060606"/>
<rect x="1368.9" y="1995.4" width="10.2" height="3.7" fill="#060606"/>
<rect x="1398.9" y="1953.1" width="3.7" height="40.4" fill="#060606"/>
<rect x="1395.6" y="1953.1" width="10.2" height="3.7" fill="#060606"/>
<rect x="1395.6" y="1989.8" width="10.2" height="3.7" fill="#060606"/>
<rect x="1452.3" y="1943.8" width="30.9" height="97.5" fill="#231f20"/>
<rect x="1478.9" y="1937.8" width="30.2" height="103.5" fill="#231f20"/>
<rect x="1481.7" y="1940.6" width="24.6" height="100.7" fill="#404041"/>
<rect x="1509.1" y="1970.2" width="26.7" height="71.1" fill="#231f20"/>
<rect x="1512.7" y="1973.8" width="19.5" height="67.5" fill="#6d6e70"/>
<rect x="1532.0" y="1991.3" width="30.2" height="50.0" fill="#231f20"/>
<rect x="1535.6" y="1994.9" width="23.0" height="46.4" fill="#d1d2d4"/>
<rect x="1558.7" y="1952.5" width="30.5" height="88.8" fill="#231f20"/>
<rect x="1562.3" y="1956.1" width="23.3" height="85.2" fill="#ededee"/>
<rect x="1465.6" y="1938.8" width="3.7" height="13.7" fill="#060606"/>
<rect x="1462.3" y="1938.8" width="10.2" height="3.7" fill="#060606"/>
<rect x="1462.3" y="1948.8" width="10.2" height="3.7" fill="#060606"/>
<rect x="1492.0" y="1931.1" width="3.7" height="16.4" fill="#060606"/>
<rect x="1488.7" y="1931.1" width="10.2" height="3.7" fill="#060606"/>
<rect x="1488.7" y="1943.8" width="10.2" height="3.7" fill="#060606"/>
<rect x="1518.7" y="1961.9" width="3.7" height="20.1" fill="#060606"/>
<rect x="1515.4" y="1961.9" width="10.2" height="3.7" fill="#060606"/>
<rect x="1515.4" y="1978.3" width="10.2" height="3.7" fill="#060606"/>
<rect x="1545.1" y="1977.9" width="3.7" height="29.8" fill="#060606"/>
<rect x="1541.8" y="1977.9" width="10.2" height="3.7" fill="#060606"/>
<rect x="1541.8" y="2004.0" width="10.2" height="3.7" fill="#060606"/>
<rect x="1571.8" y="1941.4" width="3.7" height="24.7" fill="#060606"/>
<rect x="1568.5" y="1941.4" width="10.2" height="3.7" fill="#060606"/>
<rect x="1568.5" y="1962.4" width="10.2" height="3.7" fill="#060606"/>
<rect x="1085.8" y="1674.6" width="4.3" height="372.8" fill="#858585"/>
<rect x="1085.8" y="2039.1" width="523.8" height="4.3" fill="#858585"/>
<rect x="1081.6" y="2040.1" width="6.4" height="2.0" fill="#858585"/>
<rect x="1081.6" y="1999.4" width="6.4" height="2.0" fill="#858585"/>
<rect x="1081.6" y="1958.8" width="6.4" height="2.0" fill="#858585"/>
<rect x="1081.6" y="1918.1" width="6.4" height="2.0" fill="#858585"/>
<rect x="1081.6" y="1877.4" width="6.4" height="2.0" fill="#858585"/>
<rect x="1081.6" y="1836.8" width="6.4" height="2.0" fill="#858585"/>
<rect x="1081.6" y="1796.1" width="6.4" height="2.0" fill="#858585"/>
<rect x="1081.6" y="1755.4" width="6.4" height="2.0" fill="#858585"/>
<rect x="1081.6" y="1714.7" width="6.4" height="2.0" fill="#858585"/>
<rect x="1081.6" y="1674.1" width="6.4" height="2.0" fill="#858585"/>
<rect x="1258.3" y="2041.3" width="4.4" height="6.5" fill="#858585"/>
<rect x="1431.6" y="2041.3" width="4.4" height="6.5" fill="#858585"/>
<rect x="1605.2" y="2041.3" width="4.4" height="6.5" fill="#858585"/>
<text class="s" x="1041.51" y="1722.50" font-size="24.40" fill="#000" stroke="#000" textLength="33.97" lengthAdjust="spacingAndGlyphs">4.0</text>
<text class="s" x="1041.13" y="1802.20" font-size="24.40" fill="#000" stroke="#000" textLength="34.36" lengthAdjust="spacingAndGlyphs">3.0</text>
<text class="s" x="1040.75" y="1886.00" font-size="24.40" fill="#000" stroke="#000" textLength="34.75" lengthAdjust="spacingAndGlyphs">2.0</text>
<text class="s" x="1042.21" y="1965.80" font-size="24.40" fill="#000" stroke="#000" textLength="33.26" lengthAdjust="spacingAndGlyphs">1.0</text>
<text class="s" x="1041.13" y="2042.20" font-size="24.40" fill="#000" stroke="#000" textLength="34.36" lengthAdjust="spacingAndGlyphs">0.0</text>
<text class="s" x="1006.40" y="1947.15" font-size="31.60" fill="#000" stroke="#000" textLength="182.11" lengthAdjust="spacingAndGlyphs" transform="rotate(-90 1006.40 1947.15)">Fold change</text>
<text class="s" x="1108.30" y="2081.60" font-size="24.40" fill="#000" stroke="#000" textLength="128.97" lengthAdjust="spacingAndGlyphs">Heat Shock</text>
<text class="s" x="1097.50" y="2111.50" font-size="24.40" fill="#000" stroke="#000" textLength="149.94" lengthAdjust="spacingAndGlyphs">43° for 30min</text>
<text class="s" x="1301.10" y="2081.60" font-size="24.40" fill="#000" stroke="#000" textLength="84.57" lengthAdjust="spacingAndGlyphs">HSP90i</text>
<text class="s" x="1312.00" y="2111.50" font-size="24.40" fill="#000" stroke="#000" textLength="62.76" lengthAdjust="spacingAndGlyphs">50nM</text>
<text class="s" x="1470.78" y="2081.60" font-size="24.40" fill="#000" stroke="#000" textLength="85.41" lengthAdjust="spacingAndGlyphs">HSP90i</text>
<text class="s" x="1482.66" y="2111.50" font-size="24.40" fill="#000" stroke="#000" textLength="61.97" lengthAdjust="spacingAndGlyphs">75nM</text>
<rect x="1490.7" y="1669.3" width="14.8" height="13.3" fill="#231f20"/>
<text class="s" x="1513.64" y="1681.80" font-size="24.40" fill="#000" stroke="#000" textLength="57.30" lengthAdjust="spacingAndGlyphs">Bag4</text>
<rect x="1490.7" y="1695.3" width="14.8" height="12.7" fill="#231f20"/>
<rect x="1492.5" y="1697.1" width="11.2" height="9.1" fill="#404041"/>
<text class="s" x="1515.13" y="1710.20" font-size="24.40" fill="#000" stroke="#000" textLength="45.76" lengthAdjust="spacingAndGlyphs">Ttc1</text>
<rect x="1490.7" y="1720.6" width="14.8" height="13.2" fill="#231f20"/>
<rect x="1492.5" y="1722.4" width="11.2" height="9.6" fill="#6d6e70"/>
<text class="s" x="1513.59" y="1735.00" font-size="24.40" fill="#000" stroke="#000" textLength="72.54" lengthAdjust="spacingAndGlyphs">Hspbp</text>
<rect x="1490.7" y="1746.0" width="14.8" height="13.2" fill="#231f20"/>
<rect x="1492.5" y="1747.8" width="11.2" height="9.6" fill="#d1d2d4"/>
<text class="s" x="1513.64" y="1762.10" font-size="24.40" fill="#000" stroke="#000" textLength="71.00" lengthAdjust="spacingAndGlyphs">Hsph1</text>
<rect x="1490.7" y="1775.5" width="14.8" height="13.0" fill="#231f20"/>
<rect x="1492.5" y="1777.3" width="11.2" height="9.4" fill="#ededee"/>
<text class="s" x="1513.60" y="1789.20" font-size="24.40" fill="#000" stroke="#000" textLength="86.23" lengthAdjust="spacingAndGlyphs">Hspa13</text>
<rect x="1886.1" y="1889.7" width="36.7" height="153.0" fill="#231f20"/>
<rect x="1890.0" y="1893.6" width="28.9" height="149.1" fill="#404041"/>
<rect x="1918.6" y="1868.3" width="36.2" height="174.4" fill="#231f20"/>
<rect x="1922.5" y="1872.2" width="28.4" height="170.5" fill="#fff"/>
<rect x="1999.3" y="1887.4" width="36.2" height="155.3" fill="#231f20"/>
<rect x="2003.2" y="1891.3" width="28.4" height="151.4" fill="#404041"/>
<rect x="2031.6" y="1800.9" width="36.4" height="241.8" fill="#231f20"/>
<rect x="2035.5" y="1804.8" width="28.6" height="237.9" fill="#fff"/>
<rect x="1902.2" y="1873.1" width="4.5" height="37.4" fill="#060606"/>
<rect x="1901.0" y="1873.1" width="7.0" height="3.6" fill="#060606"/>
<rect x="1901.0" y="1906.9" width="7.0" height="3.6" fill="#060606"/>
<rect x="1934.5" y="1855.2" width="4.5" height="30.5" fill="#060606"/>
<rect x="1933.3" y="1855.2" width="7.0" height="3.6" fill="#060606"/>
<rect x="1933.3" y="1882.1" width="7.0" height="3.6" fill="#060606"/>
<rect x="2015.3" y="1856.7" width="4.5" height="65.8" fill="#060606"/>
<rect x="2014.1" y="1856.7" width="7.0" height="3.6" fill="#060606"/>
<rect x="2014.1" y="1918.9" width="7.0" height="3.6" fill="#060606"/>
<rect x="2047.8" y="1781.7" width="4.5" height="42.7" fill="#060606"/>
<rect x="2046.5" y="1781.7" width="7.0" height="3.6" fill="#060606"/>
<rect x="2046.5" y="1820.8" width="7.0" height="3.6" fill="#060606"/>
<rect x="1862.7" y="1747.0" width="3.4" height="299.5" fill="#858585"/>
<rect x="1862.7" y="2040.6" width="227.9" height="4.6" fill="#858585"/>
<rect x="1860.4" y="2042.1" width="4.0" height="1.4" fill="#9a9a9a"/>
<rect x="1860.4" y="1992.9" width="4.0" height="1.4" fill="#9a9a9a"/>
<rect x="1860.4" y="1943.8" width="4.0" height="1.4" fill="#9a9a9a"/>
<rect x="1860.4" y="1894.6" width="4.0" height="1.4" fill="#9a9a9a"/>
<rect x="1860.4" y="1845.5" width="4.0" height="1.4" fill="#9a9a9a"/>
<rect x="1860.4" y="1796.3" width="4.0" height="1.4" fill="#9a9a9a"/>
<rect x="1860.4" y="1747.2" width="4.0" height="1.4" fill="#9a9a9a"/>
<rect x="1975.9" y="2042.7" width="1.4" height="5.7" fill="#9a9a9a"/>
<rect x="2089.3" y="2042.7" width="1.4" height="5.7" fill="#9a9a9a"/>
<text class="s" x="1815.92" y="1757.70" font-size="24.40" fill="#000" stroke="#000" textLength="34.89" lengthAdjust="spacingAndGlyphs">3.0</text>
<text class="s" x="1815.53" y="1857.80" font-size="24.40" fill="#000" stroke="#000" textLength="35.29" lengthAdjust="spacingAndGlyphs">2.0</text>
<text class="s" x="1818.03" y="1956.80" font-size="24.40" fill="#000" stroke="#000" textLength="32.72" lengthAdjust="spacingAndGlyphs">1.0</text>
<text class="s" x="1818.43" y="2054.80" font-size="24.40" fill="#000" stroke="#000" textLength="34.57" lengthAdjust="spacingAndGlyphs">0.0</text>
<text class="s" x="1752.00" y="1982.16" font-size="31.60" fill="#000" stroke="#000" textLength="266.60" lengthAdjust="spacingAndGlyphs" transform="rotate(-90 1752.00 1982.16)">Fold change upon</text>
<text class="s" x="1791.60" y="1967.57" font-size="31.60" fill="#000" stroke="#000" textLength="246.81" lengthAdjust="spacingAndGlyphs" transform="rotate(-90 1791.60 1967.57)">HSP90 inhibition</text>
<text class="s" x="1871.62" y="2079.20" font-size="24.40" fill="#000" stroke="#000" textLength="91.75" lengthAdjust="spacingAndGlyphs">MERV-L</text>
<text class="s" x="2006.27" y="2079.20" font-size="24.40" fill="#000" stroke="#000" textLength="68.74" lengthAdjust="spacingAndGlyphs">IAPEz</text>
<rect x="1894.3" y="1678.8" width="13.9" height="11.2" fill="#231f20"/>
<rect x="1896.3" y="1680.8" width="9.9" height="7.2" fill="#404041"/>
<rect x="1894.3" y="1708.6" width="13.9" height="11.2" fill="#231f20"/>
<rect x="1896.3" y="1710.6" width="9.9" height="7.2" fill="#fff"/>
<text class="s" x="1917.10" y="1695.00" font-size="24.40" fill="#000" stroke="#000" textLength="171.05" lengthAdjust="spacingAndGlyphs">HSP90i (50nM)</text>
<text class="s" x="1917.10" y="1722.10" font-size="24.40" fill="#000" stroke="#000" textLength="171.05" lengthAdjust="spacingAndGlyphs">HSP90i (75nM)</text>
</svg>
</body></html>
